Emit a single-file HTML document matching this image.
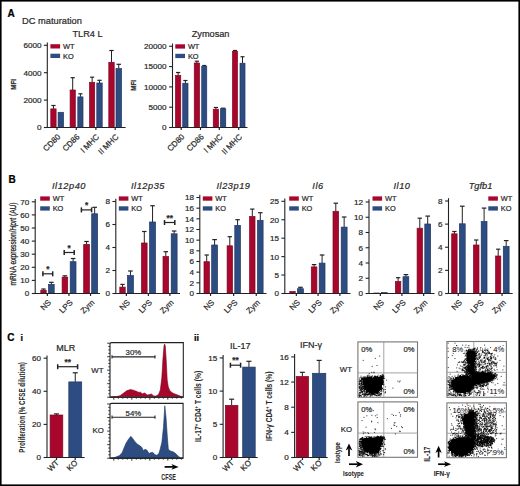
<!DOCTYPE html>
<html><head><meta charset="utf-8"><style>
html,body{margin:0;padding:0;background:#fff;}
svg{display:block;font-family:"Liberation Sans", sans-serif;}
</style></head><body>
<svg width="520" height="486" viewBox="0 0 520 486">
<defs><filter id="soft" x="-5%" y="-5%" width="110%" height="110%"><feGaussianBlur stdDeviation="0.35"/></filter></defs>
<rect width="520" height="486" fill="#fff"/>
<rect x="0" y="0" width="520" height="486" fill="none" stroke="#000" stroke-width="3.2"/>
<text x="7.60" y="17.00" font-size="10" text-anchor="start" fill="#000" stroke="#000" stroke-width="0.22" font-weight="bold" font-style="normal" >A</text>
<text x="22.00" y="24.40" font-size="9.3" text-anchor="start" fill="#2a2a2a" stroke="#2a2a2a" stroke-width="0.22" font-weight="normal" font-style="normal" >DC maturation</text>
<text x="87.50" y="36.90" font-size="9.2" text-anchor="middle" fill="#2a2a2a" stroke="#2a2a2a" stroke-width="0.22" font-weight="normal" font-style="normal" >TLR4 L</text>
<line x1="47.30" y1="42.50" x2="47.30" y2="128.00" stroke="#222" stroke-width="1.1" />
<line x1="43.90" y1="45.30" x2="47.30" y2="45.30" stroke="#222" stroke-width="1.1" />
<text x="41.40" y="48.18" font-size="8.1" text-anchor="end" fill="#2a2a2a" stroke="#2a2a2a" stroke-width="0.22" font-weight="normal" font-style="normal" >6000</text>
<line x1="43.90" y1="72.70" x2="47.30" y2="72.70" stroke="#222" stroke-width="1.1" />
<text x="41.40" y="75.58" font-size="8.1" text-anchor="end" fill="#2a2a2a" stroke="#2a2a2a" stroke-width="0.22" font-weight="normal" font-style="normal" >4000</text>
<line x1="43.90" y1="100.10" x2="47.30" y2="100.10" stroke="#222" stroke-width="1.1" />
<text x="41.40" y="102.98" font-size="8.1" text-anchor="end" fill="#2a2a2a" stroke="#2a2a2a" stroke-width="0.22" font-weight="normal" font-style="normal" >2000</text>
<line x1="43.90" y1="127.50" x2="47.30" y2="127.50" stroke="#222" stroke-width="1.1" />
<text x="41.40" y="130.38" font-size="8.1" text-anchor="end" fill="#2a2a2a" stroke="#2a2a2a" stroke-width="0.22" font-weight="normal" font-style="normal" >0</text>
<line x1="53.45" y1="108.90" x2="53.45" y2="105.50" stroke="#222" stroke-width="1.0" />
<line x1="51.33" y1="105.50" x2="55.57" y2="105.50" stroke="#222" stroke-width="1.2" />
<rect x="50.80" y="108.90" width="5.30" height="18.60" fill="#a8062c" stroke="#7d0620" stroke-width="0.7"/>
<rect x="58.10" y="112.30" width="5.40" height="15.20" fill="#2d4d82" stroke="#1e3560" stroke-width="0.7"/>
<line x1="72.70" y1="90.00" x2="72.70" y2="77.70" stroke="#222" stroke-width="1.0" />
<line x1="70.62" y1="77.70" x2="74.78" y2="77.70" stroke="#222" stroke-width="1.2" />
<rect x="70.10" y="90.00" width="5.20" height="37.50" fill="#a8062c" stroke="#7d0620" stroke-width="0.7"/>
<line x1="80.40" y1="96.90" x2="80.40" y2="93.80" stroke="#222" stroke-width="1.0" />
<line x1="78.32" y1="93.80" x2="82.48" y2="93.80" stroke="#222" stroke-width="1.2" />
<rect x="77.80" y="96.90" width="5.20" height="30.60" fill="#2d4d82" stroke="#1e3560" stroke-width="0.7"/>
<line x1="92.15" y1="82.30" x2="92.15" y2="77.20" stroke="#222" stroke-width="1.0" />
<line x1="90.11" y1="77.20" x2="94.19" y2="77.20" stroke="#222" stroke-width="1.2" />
<rect x="89.60" y="82.30" width="5.10" height="45.20" fill="#a8062c" stroke="#7d0620" stroke-width="0.7"/>
<line x1="99.50" y1="83.00" x2="99.50" y2="80.30" stroke="#222" stroke-width="1.0" />
<line x1="97.34" y1="80.30" x2="101.66" y2="80.30" stroke="#222" stroke-width="1.2" />
<rect x="96.80" y="83.00" width="5.40" height="44.50" fill="#2d4d82" stroke="#1e3560" stroke-width="0.7"/>
<line x1="111.50" y1="62.30" x2="111.50" y2="50.50" stroke="#222" stroke-width="1.0" />
<line x1="109.34" y1="50.50" x2="113.66" y2="50.50" stroke="#222" stroke-width="1.2" />
<rect x="108.80" y="62.30" width="5.40" height="65.20" fill="#a8062c" stroke="#7d0620" stroke-width="0.7"/>
<line x1="118.75" y1="68.50" x2="118.75" y2="64.30" stroke="#222" stroke-width="1.0" />
<line x1="116.55" y1="64.30" x2="120.95" y2="64.30" stroke="#222" stroke-width="1.2" />
<rect x="116.00" y="68.50" width="5.50" height="59.00" fill="#2d4d82" stroke="#1e3560" stroke-width="0.7"/>
<line x1="46.80" y1="127.50" x2="125.60" y2="127.50" stroke="#222" stroke-width="1.2" />
<line x1="57.00" y1="127.50" x2="57.00" y2="130.00" stroke="#222" stroke-width="1.2" />
<line x1="76.30" y1="127.50" x2="76.30" y2="130.00" stroke="#222" stroke-width="1.2" />
<line x1="95.90" y1="127.50" x2="95.90" y2="130.00" stroke="#222" stroke-width="1.2" />
<line x1="115.20" y1="127.50" x2="115.20" y2="130.00" stroke="#222" stroke-width="1.2" />
<rect x="50.40" y="44.20" width="9.7" height="4.3" fill="#a8062c"/>
<rect x="50.40" y="53.70" width="9.7" height="4.3" fill="#2d4d82"/>
<text x="63.00" y="49.01" font-size="7.4" text-anchor="start" fill="#2a2a2a" stroke="#2a2a2a" stroke-width="0.22" font-weight="normal" font-style="normal" >WT</text>
<text x="63.00" y="58.51" font-size="7.4" text-anchor="start" fill="#2a2a2a" stroke="#2a2a2a" stroke-width="0.22" font-weight="normal" font-style="normal" >KO</text>
<text transform="translate(60.80,137.30) rotate(-45) scale(1.0,1)" font-size="8" text-anchor="end" fill="#2a2a2a" stroke="#2a2a2a" stroke-width="0.22" font-weight="normal">CD80</text>
<text transform="translate(80.10,137.30) rotate(-45) scale(1.0,1)" font-size="8" text-anchor="end" fill="#2a2a2a" stroke="#2a2a2a" stroke-width="0.22" font-weight="normal">CD86</text>
<text transform="translate(99.70,137.30) rotate(-45) scale(1.0,1)" font-size="8" text-anchor="end" fill="#2a2a2a" stroke="#2a2a2a" stroke-width="0.22" font-weight="normal">I MHC</text>
<text transform="translate(119.00,137.30) rotate(-45) scale(1.0,1)" font-size="8" text-anchor="end" fill="#2a2a2a" stroke="#2a2a2a" stroke-width="0.22" font-weight="normal">II MHC</text>
<text transform="translate(15.90,84.40) rotate(-90)" font-size="8" text-anchor="middle" fill="#2a2a2a" stroke="#2a2a2a" stroke-width="0.22" font-weight="bold" textLength="10.6" lengthAdjust="spacingAndGlyphs">MFI</text>
<text x="210.60" y="36.90" font-size="9.2" text-anchor="middle" fill="#2a2a2a" stroke="#2a2a2a" stroke-width="0.22" font-weight="normal" font-style="normal" >Zymosan</text>
<line x1="172.50" y1="43.50" x2="172.50" y2="128.00" stroke="#222" stroke-width="1.1" />
<line x1="169.10" y1="46.30" x2="172.50" y2="46.30" stroke="#222" stroke-width="1.1" />
<text x="166.60" y="49.18" font-size="8.1" text-anchor="end" fill="#2a2a2a" stroke="#2a2a2a" stroke-width="0.22" font-weight="normal" font-style="normal" >20000</text>
<line x1="169.10" y1="66.60" x2="172.50" y2="66.60" stroke="#222" stroke-width="1.1" />
<text x="166.60" y="69.48" font-size="8.1" text-anchor="end" fill="#2a2a2a" stroke="#2a2a2a" stroke-width="0.22" font-weight="normal" font-style="normal" >15000</text>
<line x1="169.10" y1="86.90" x2="172.50" y2="86.90" stroke="#222" stroke-width="1.1" />
<text x="166.60" y="89.78" font-size="8.1" text-anchor="end" fill="#2a2a2a" stroke="#2a2a2a" stroke-width="0.22" font-weight="normal" font-style="normal" >10000</text>
<line x1="169.10" y1="107.20" x2="172.50" y2="107.20" stroke="#222" stroke-width="1.1" />
<text x="166.60" y="110.08" font-size="8.1" text-anchor="end" fill="#2a2a2a" stroke="#2a2a2a" stroke-width="0.22" font-weight="normal" font-style="normal" >5000</text>
<line x1="169.10" y1="127.50" x2="172.50" y2="127.50" stroke="#222" stroke-width="1.1" />
<text x="166.60" y="130.38" font-size="8.1" text-anchor="end" fill="#2a2a2a" stroke="#2a2a2a" stroke-width="0.22" font-weight="normal" font-style="normal" >0</text>
<line x1="178.12" y1="75.50" x2="178.12" y2="72.50" stroke="#222" stroke-width="1.0" />
<line x1="176.03" y1="72.50" x2="180.22" y2="72.50" stroke="#222" stroke-width="1.2" />
<rect x="175.50" y="75.50" width="5.25" height="52.00" fill="#a8062c" stroke="#7d0620" stroke-width="0.7"/>
<line x1="185.38" y1="83.25" x2="185.38" y2="80.50" stroke="#222" stroke-width="1.0" />
<line x1="183.28" y1="80.50" x2="187.47" y2="80.50" stroke="#222" stroke-width="1.2" />
<rect x="182.75" y="83.25" width="5.25" height="44.25" fill="#2d4d82" stroke="#1e3560" stroke-width="0.7"/>
<line x1="196.88" y1="63.00" x2="196.88" y2="61.20" stroke="#222" stroke-width="1.0" />
<line x1="194.78" y1="61.20" x2="198.97" y2="61.20" stroke="#222" stroke-width="1.2" />
<rect x="194.25" y="63.00" width="5.25" height="64.50" fill="#a8062c" stroke="#7d0620" stroke-width="0.7"/>
<line x1="204.25" y1="66.25" x2="204.25" y2="65.50" stroke="#222" stroke-width="1.0" />
<line x1="202.25" y1="65.50" x2="206.25" y2="65.50" stroke="#222" stroke-width="1.2" />
<rect x="201.75" y="66.25" width="5.00" height="61.25" fill="#2d4d82" stroke="#1e3560" stroke-width="0.7"/>
<line x1="215.88" y1="109.25" x2="215.88" y2="107.50" stroke="#222" stroke-width="1.0" />
<line x1="213.78" y1="107.50" x2="217.97" y2="107.50" stroke="#222" stroke-width="1.2" />
<rect x="213.25" y="109.25" width="5.25" height="18.25" fill="#a8062c" stroke="#7d0620" stroke-width="0.7"/>
<line x1="223.12" y1="108.75" x2="223.12" y2="108.20" stroke="#222" stroke-width="1.0" />
<line x1="221.03" y1="108.20" x2="225.22" y2="108.20" stroke="#222" stroke-width="1.2" />
<rect x="220.50" y="108.75" width="5.25" height="18.75" fill="#2d4d82" stroke="#1e3560" stroke-width="0.7"/>
<line x1="235.00" y1="51.25" x2="235.00" y2="50.50" stroke="#222" stroke-width="1.0" />
<line x1="233.00" y1="50.50" x2="237.00" y2="50.50" stroke="#222" stroke-width="1.2" />
<rect x="232.50" y="51.25" width="5.00" height="76.25" fill="#a8062c" stroke="#7d0620" stroke-width="0.7"/>
<line x1="242.50" y1="63.25" x2="242.50" y2="56.75" stroke="#222" stroke-width="1.0" />
<line x1="240.50" y1="56.75" x2="244.50" y2="56.75" stroke="#222" stroke-width="1.2" />
<rect x="240.00" y="63.25" width="5.00" height="64.25" fill="#2d4d82" stroke="#1e3560" stroke-width="0.7"/>
<line x1="172.00" y1="127.50" x2="247.50" y2="127.50" stroke="#222" stroke-width="1.2" />
<line x1="181.20" y1="127.50" x2="181.20" y2="130.00" stroke="#222" stroke-width="1.2" />
<line x1="200.50" y1="127.50" x2="200.50" y2="130.00" stroke="#222" stroke-width="1.2" />
<line x1="219.30" y1="127.50" x2="219.30" y2="130.00" stroke="#222" stroke-width="1.2" />
<line x1="238.70" y1="127.50" x2="238.70" y2="130.00" stroke="#222" stroke-width="1.2" />
<rect x="175.30" y="44.30" width="9.7" height="4.3" fill="#a8062c"/>
<rect x="175.30" y="53.80" width="9.7" height="4.3" fill="#2d4d82"/>
<text x="187.90" y="49.11" font-size="7.4" text-anchor="start" fill="#2a2a2a" stroke="#2a2a2a" stroke-width="0.22" font-weight="normal" font-style="normal" >WT</text>
<text x="187.90" y="58.61" font-size="7.4" text-anchor="start" fill="#2a2a2a" stroke="#2a2a2a" stroke-width="0.22" font-weight="normal" font-style="normal" >KO</text>
<text transform="translate(185.00,137.30) rotate(-45) scale(1.0,1)" font-size="8" text-anchor="end" fill="#2a2a2a" stroke="#2a2a2a" stroke-width="0.22" font-weight="normal">CD80</text>
<text transform="translate(204.30,137.30) rotate(-45) scale(1.0,1)" font-size="8" text-anchor="end" fill="#2a2a2a" stroke="#2a2a2a" stroke-width="0.22" font-weight="normal">CD86</text>
<text transform="translate(223.10,137.30) rotate(-45) scale(1.0,1)" font-size="8" text-anchor="end" fill="#2a2a2a" stroke="#2a2a2a" stroke-width="0.22" font-weight="normal">I MHC</text>
<text transform="translate(242.50,137.30) rotate(-45) scale(1.0,1)" font-size="8" text-anchor="end" fill="#2a2a2a" stroke="#2a2a2a" stroke-width="0.22" font-weight="normal">II MHC</text>
<text transform="translate(135.80,85.40) rotate(-90)" font-size="8" text-anchor="middle" fill="#2a2a2a" stroke="#2a2a2a" stroke-width="0.22" font-weight="bold" textLength="10.6" lengthAdjust="spacingAndGlyphs">MFI</text>
<text x="8.50" y="182.60" font-size="10" text-anchor="start" fill="#000" stroke="#000" stroke-width="0.22" font-weight="bold" font-style="normal" >B</text>
<text x="69.00" y="188.60" font-size="9.2" text-anchor="middle" fill="#2a2a2a" stroke="#2a2a2a" stroke-width="0.22" font-weight="normal" font-style="italic" letter-spacing="0.55">Il12p40</text>
<line x1="35.20" y1="199.00" x2="35.20" y2="294.00" stroke="#222" stroke-width="1.1" />
<line x1="31.80" y1="293.50" x2="35.20" y2="293.50" stroke="#222" stroke-width="1.1" />
<text x="29.30" y="296.38" font-size="8.1" text-anchor="end" fill="#2a2a2a" stroke="#2a2a2a" stroke-width="0.22" font-weight="normal" font-style="normal" >0</text>
<line x1="31.80" y1="280.40" x2="35.20" y2="280.40" stroke="#222" stroke-width="1.1" />
<text x="29.30" y="283.28" font-size="8.1" text-anchor="end" fill="#2a2a2a" stroke="#2a2a2a" stroke-width="0.22" font-weight="normal" font-style="normal" >10</text>
<line x1="31.80" y1="267.30" x2="35.20" y2="267.30" stroke="#222" stroke-width="1.1" />
<text x="29.30" y="270.18" font-size="8.1" text-anchor="end" fill="#2a2a2a" stroke="#2a2a2a" stroke-width="0.22" font-weight="normal" font-style="normal" >20</text>
<line x1="31.80" y1="254.20" x2="35.20" y2="254.20" stroke="#222" stroke-width="1.1" />
<text x="29.30" y="257.08" font-size="8.1" text-anchor="end" fill="#2a2a2a" stroke="#2a2a2a" stroke-width="0.22" font-weight="normal" font-style="normal" >30</text>
<line x1="31.80" y1="241.10" x2="35.20" y2="241.10" stroke="#222" stroke-width="1.1" />
<text x="29.30" y="243.98" font-size="8.1" text-anchor="end" fill="#2a2a2a" stroke="#2a2a2a" stroke-width="0.22" font-weight="normal" font-style="normal" >40</text>
<line x1="31.80" y1="228.00" x2="35.20" y2="228.00" stroke="#222" stroke-width="1.1" />
<text x="29.30" y="230.88" font-size="8.1" text-anchor="end" fill="#2a2a2a" stroke="#2a2a2a" stroke-width="0.22" font-weight="normal" font-style="normal" >50</text>
<line x1="31.80" y1="214.90" x2="35.20" y2="214.90" stroke="#222" stroke-width="1.1" />
<text x="29.30" y="217.78" font-size="8.1" text-anchor="end" fill="#2a2a2a" stroke="#2a2a2a" stroke-width="0.22" font-weight="normal" font-style="normal" >60</text>
<line x1="31.80" y1="201.80" x2="35.20" y2="201.80" stroke="#222" stroke-width="1.1" />
<text x="29.30" y="204.68" font-size="8.1" text-anchor="end" fill="#2a2a2a" stroke="#2a2a2a" stroke-width="0.22" font-weight="normal" font-style="normal" >70</text>
<line x1="43.50" y1="290.20" x2="43.50" y2="289.00" stroke="#222" stroke-width="1.0" />
<line x1="41.34" y1="289.00" x2="45.66" y2="289.00" stroke="#222" stroke-width="1.2" />
<rect x="40.80" y="290.20" width="5.40" height="3.30" fill="#a8062c" stroke="#7d0620" stroke-width="0.7"/>
<line x1="51.35" y1="284.40" x2="51.35" y2="282.30" stroke="#222" stroke-width="1.0" />
<line x1="49.07" y1="282.30" x2="53.63" y2="282.30" stroke="#222" stroke-width="1.2" />
<rect x="48.50" y="284.40" width="5.70" height="9.10" fill="#2d4d82" stroke="#1e3560" stroke-width="0.7"/>
<line x1="64.90" y1="277.10" x2="64.90" y2="275.80" stroke="#222" stroke-width="1.0" />
<line x1="62.66" y1="275.80" x2="67.14" y2="275.80" stroke="#222" stroke-width="1.2" />
<rect x="62.10" y="277.10" width="5.60" height="16.40" fill="#a8062c" stroke="#7d0620" stroke-width="0.7"/>
<line x1="73.10" y1="261.70" x2="73.10" y2="258.50" stroke="#222" stroke-width="1.0" />
<line x1="70.80" y1="258.50" x2="75.40" y2="258.50" stroke="#222" stroke-width="1.2" />
<rect x="70.20" y="261.70" width="5.80" height="31.80" fill="#2d4d82" stroke="#1e3560" stroke-width="0.7"/>
<line x1="86.55" y1="244.40" x2="86.55" y2="241.50" stroke="#222" stroke-width="1.0" />
<line x1="84.27" y1="241.50" x2="88.83" y2="241.50" stroke="#222" stroke-width="1.2" />
<rect x="83.70" y="244.40" width="5.70" height="49.10" fill="#a8062c" stroke="#7d0620" stroke-width="0.7"/>
<line x1="94.65" y1="213.75" x2="94.65" y2="207.30" stroke="#222" stroke-width="1.0" />
<line x1="92.35" y1="207.30" x2="96.95" y2="207.30" stroke="#222" stroke-width="1.2" />
<rect x="91.70" y="213.75" width="5.90" height="79.75" fill="#2d4d82" stroke="#1e3560" stroke-width="0.7"/>
<line x1="34.70" y1="293.50" x2="100.00" y2="293.50" stroke="#222" stroke-width="1.2" />
<line x1="47.35" y1="293.50" x2="47.35" y2="296.00" stroke="#222" stroke-width="1.2" />
<line x1="68.95" y1="293.50" x2="68.95" y2="296.00" stroke="#222" stroke-width="1.2" />
<line x1="90.55" y1="293.50" x2="90.55" y2="296.00" stroke="#222" stroke-width="1.2" />
<rect x="40.20" y="196.40" width="9.6" height="4.3" fill="#a8062c"/>
<rect x="40.20" y="206.30" width="9.6" height="4.3" fill="#2d4d82"/>
<text x="52.70" y="201.21" font-size="7.4" text-anchor="start" fill="#2a2a2a" stroke="#2a2a2a" stroke-width="0.22" font-weight="normal" font-style="normal" >WT</text>
<text x="52.70" y="211.11" font-size="7.4" text-anchor="start" fill="#2a2a2a" stroke="#2a2a2a" stroke-width="0.22" font-weight="normal" font-style="normal" >KO</text>
<text transform="translate(51.65,303.00) rotate(-45) scale(1.0,1)" font-size="8" text-anchor="end" fill="#2a2a2a" stroke="#2a2a2a" stroke-width="0.22" font-weight="normal">NS</text>
<text transform="translate(73.25,303.00) rotate(-45) scale(1.0,1)" font-size="8" text-anchor="end" fill="#2a2a2a" stroke="#2a2a2a" stroke-width="0.22" font-weight="normal">LPS</text>
<text transform="translate(94.85,303.00) rotate(-45) scale(1.0,1)" font-size="8" text-anchor="end" fill="#2a2a2a" stroke="#2a2a2a" stroke-width="0.22" font-weight="normal">Zym</text>
<text x="148.00" y="188.60" font-size="9.2" text-anchor="middle" fill="#2a2a2a" stroke="#2a2a2a" stroke-width="0.22" font-weight="normal" font-style="italic" letter-spacing="0.55">Il12p35</text>
<line x1="115.80" y1="198.70" x2="115.80" y2="294.00" stroke="#222" stroke-width="1.1" />
<line x1="112.40" y1="293.50" x2="115.80" y2="293.50" stroke="#222" stroke-width="1.1" />
<text x="109.90" y="296.38" font-size="8.1" text-anchor="end" fill="#2a2a2a" stroke="#2a2a2a" stroke-width="0.22" font-weight="normal" font-style="normal" >0</text>
<line x1="112.40" y1="270.50" x2="115.80" y2="270.50" stroke="#222" stroke-width="1.1" />
<text x="109.90" y="273.38" font-size="8.1" text-anchor="end" fill="#2a2a2a" stroke="#2a2a2a" stroke-width="0.22" font-weight="normal" font-style="normal" >2</text>
<line x1="112.40" y1="247.50" x2="115.80" y2="247.50" stroke="#222" stroke-width="1.1" />
<text x="109.90" y="250.38" font-size="8.1" text-anchor="end" fill="#2a2a2a" stroke="#2a2a2a" stroke-width="0.22" font-weight="normal" font-style="normal" >4</text>
<line x1="112.40" y1="224.50" x2="115.80" y2="224.50" stroke="#222" stroke-width="1.1" />
<text x="109.90" y="227.38" font-size="8.1" text-anchor="end" fill="#2a2a2a" stroke="#2a2a2a" stroke-width="0.22" font-weight="normal" font-style="normal" >6</text>
<line x1="112.40" y1="201.50" x2="115.80" y2="201.50" stroke="#222" stroke-width="1.1" />
<text x="109.90" y="204.38" font-size="8.1" text-anchor="end" fill="#2a2a2a" stroke="#2a2a2a" stroke-width="0.22" font-weight="normal" font-style="normal" >8</text>
<line x1="122.50" y1="287.10" x2="122.50" y2="284.40" stroke="#222" stroke-width="1.0" />
<line x1="120.34" y1="284.40" x2="124.66" y2="284.40" stroke="#222" stroke-width="1.2" />
<rect x="119.80" y="287.10" width="5.40" height="6.40" fill="#a8062c" stroke="#7d0620" stroke-width="0.7"/>
<line x1="130.45" y1="275.60" x2="130.45" y2="271.00" stroke="#222" stroke-width="1.0" />
<line x1="128.15" y1="271.00" x2="132.75" y2="271.00" stroke="#222" stroke-width="1.2" />
<rect x="127.50" y="275.60" width="5.90" height="17.90" fill="#2d4d82" stroke="#1e3560" stroke-width="0.7"/>
<line x1="144.30" y1="243.00" x2="144.30" y2="231.50" stroke="#222" stroke-width="1.0" />
<line x1="142.06" y1="231.50" x2="146.54" y2="231.50" stroke="#222" stroke-width="1.2" />
<rect x="141.50" y="243.00" width="5.60" height="50.50" fill="#a8062c" stroke="#7d0620" stroke-width="0.7"/>
<line x1="152.55" y1="222.00" x2="152.55" y2="205.75" stroke="#222" stroke-width="1.0" />
<line x1="150.25" y1="205.75" x2="154.85" y2="205.75" stroke="#222" stroke-width="1.2" />
<rect x="149.60" y="222.00" width="5.90" height="71.50" fill="#2d4d82" stroke="#1e3560" stroke-width="0.7"/>
<line x1="165.80" y1="256.50" x2="165.80" y2="251.70" stroke="#222" stroke-width="1.0" />
<line x1="163.56" y1="251.70" x2="168.04" y2="251.70" stroke="#222" stroke-width="1.2" />
<rect x="163.00" y="256.50" width="5.60" height="37.00" fill="#a8062c" stroke="#7d0620" stroke-width="0.7"/>
<line x1="174.15" y1="233.80" x2="174.15" y2="231.00" stroke="#222" stroke-width="1.0" />
<line x1="171.85" y1="231.00" x2="176.45" y2="231.00" stroke="#222" stroke-width="1.2" />
<rect x="171.20" y="233.80" width="5.90" height="59.70" fill="#2d4d82" stroke="#1e3560" stroke-width="0.7"/>
<line x1="115.30" y1="293.50" x2="180.00" y2="293.50" stroke="#222" stroke-width="1.2" />
<line x1="126.35" y1="293.50" x2="126.35" y2="296.00" stroke="#222" stroke-width="1.2" />
<line x1="148.35" y1="293.50" x2="148.35" y2="296.00" stroke="#222" stroke-width="1.2" />
<line x1="169.90" y1="293.50" x2="169.90" y2="296.00" stroke="#222" stroke-width="1.2" />
<rect x="118.80" y="196.40" width="9.6" height="4.3" fill="#a8062c"/>
<rect x="118.80" y="206.30" width="9.6" height="4.3" fill="#2d4d82"/>
<text x="131.30" y="201.21" font-size="7.4" text-anchor="start" fill="#2a2a2a" stroke="#2a2a2a" stroke-width="0.22" font-weight="normal" font-style="normal" >WT</text>
<text x="131.30" y="211.11" font-size="7.4" text-anchor="start" fill="#2a2a2a" stroke="#2a2a2a" stroke-width="0.22" font-weight="normal" font-style="normal" >KO</text>
<text transform="translate(130.65,303.00) rotate(-45) scale(1.0,1)" font-size="8" text-anchor="end" fill="#2a2a2a" stroke="#2a2a2a" stroke-width="0.22" font-weight="normal">NS</text>
<text transform="translate(152.65,303.00) rotate(-45) scale(1.0,1)" font-size="8" text-anchor="end" fill="#2a2a2a" stroke="#2a2a2a" stroke-width="0.22" font-weight="normal">LPS</text>
<text transform="translate(174.20,303.00) rotate(-45) scale(1.0,1)" font-size="8" text-anchor="end" fill="#2a2a2a" stroke="#2a2a2a" stroke-width="0.22" font-weight="normal">Zym</text>
<text x="233.50" y="188.60" font-size="9.2" text-anchor="middle" fill="#2a2a2a" stroke="#2a2a2a" stroke-width="0.22" font-weight="normal" font-style="italic" letter-spacing="0.55">Il23p19</text>
<line x1="199.80" y1="194.70" x2="199.80" y2="294.00" stroke="#222" stroke-width="1.1" />
<line x1="196.40" y1="293.50" x2="199.80" y2="293.50" stroke="#222" stroke-width="1.1" />
<text x="193.90" y="296.38" font-size="8.1" text-anchor="end" fill="#2a2a2a" stroke="#2a2a2a" stroke-width="0.22" font-weight="normal" font-style="normal" >0</text>
<line x1="196.40" y1="282.83" x2="199.80" y2="282.83" stroke="#222" stroke-width="1.1" />
<text x="193.90" y="285.71" font-size="8.1" text-anchor="end" fill="#2a2a2a" stroke="#2a2a2a" stroke-width="0.22" font-weight="normal" font-style="normal" >2</text>
<line x1="196.40" y1="272.17" x2="199.80" y2="272.17" stroke="#222" stroke-width="1.1" />
<text x="193.90" y="275.04" font-size="8.1" text-anchor="end" fill="#2a2a2a" stroke="#2a2a2a" stroke-width="0.22" font-weight="normal" font-style="normal" >4</text>
<line x1="196.40" y1="261.50" x2="199.80" y2="261.50" stroke="#222" stroke-width="1.1" />
<text x="193.90" y="264.38" font-size="8.1" text-anchor="end" fill="#2a2a2a" stroke="#2a2a2a" stroke-width="0.22" font-weight="normal" font-style="normal" >6</text>
<line x1="196.40" y1="250.83" x2="199.80" y2="250.83" stroke="#222" stroke-width="1.1" />
<text x="193.90" y="253.71" font-size="8.1" text-anchor="end" fill="#2a2a2a" stroke="#2a2a2a" stroke-width="0.22" font-weight="normal" font-style="normal" >8</text>
<line x1="196.40" y1="240.17" x2="199.80" y2="240.17" stroke="#222" stroke-width="1.1" />
<text x="193.90" y="243.04" font-size="8.1" text-anchor="end" fill="#2a2a2a" stroke="#2a2a2a" stroke-width="0.22" font-weight="normal" font-style="normal" >10</text>
<line x1="196.40" y1="229.50" x2="199.80" y2="229.50" stroke="#222" stroke-width="1.1" />
<text x="193.90" y="232.38" font-size="8.1" text-anchor="end" fill="#2a2a2a" stroke="#2a2a2a" stroke-width="0.22" font-weight="normal" font-style="normal" >12</text>
<line x1="196.40" y1="218.83" x2="199.80" y2="218.83" stroke="#222" stroke-width="1.1" />
<text x="193.90" y="221.71" font-size="8.1" text-anchor="end" fill="#2a2a2a" stroke="#2a2a2a" stroke-width="0.22" font-weight="normal" font-style="normal" >14</text>
<line x1="196.40" y1="208.17" x2="199.80" y2="208.17" stroke="#222" stroke-width="1.1" />
<text x="193.90" y="211.04" font-size="8.1" text-anchor="end" fill="#2a2a2a" stroke="#2a2a2a" stroke-width="0.22" font-weight="normal" font-style="normal" >16</text>
<line x1="196.40" y1="197.50" x2="199.80" y2="197.50" stroke="#222" stroke-width="1.1" />
<text x="193.90" y="200.38" font-size="8.1" text-anchor="end" fill="#2a2a2a" stroke="#2a2a2a" stroke-width="0.22" font-weight="normal" font-style="normal" >18</text>
<line x1="206.70" y1="261.70" x2="206.70" y2="255.00" stroke="#222" stroke-width="1.0" />
<line x1="204.54" y1="255.00" x2="208.86" y2="255.00" stroke="#222" stroke-width="1.2" />
<rect x="204.00" y="261.70" width="5.40" height="31.80" fill="#a8062c" stroke="#7d0620" stroke-width="0.7"/>
<line x1="214.60" y1="245.00" x2="214.60" y2="239.60" stroke="#222" stroke-width="1.0" />
<line x1="212.30" y1="239.60" x2="216.90" y2="239.60" stroke="#222" stroke-width="1.2" />
<rect x="211.70" y="245.00" width="5.80" height="48.50" fill="#2d4d82" stroke="#1e3560" stroke-width="0.7"/>
<line x1="229.80" y1="245.80" x2="229.80" y2="236.70" stroke="#222" stroke-width="1.0" />
<line x1="227.64" y1="236.70" x2="231.96" y2="236.70" stroke="#222" stroke-width="1.2" />
<rect x="227.10" y="245.80" width="5.40" height="47.70" fill="#a8062c" stroke="#7d0620" stroke-width="0.7"/>
<line x1="237.60" y1="225.40" x2="237.60" y2="219.70" stroke="#222" stroke-width="1.0" />
<line x1="235.36" y1="219.70" x2="239.84" y2="219.70" stroke="#222" stroke-width="1.2" />
<rect x="234.80" y="225.40" width="5.60" height="68.10" fill="#2d4d82" stroke="#1e3560" stroke-width="0.7"/>
<line x1="252.30" y1="216.50" x2="252.30" y2="209.10" stroke="#222" stroke-width="1.0" />
<line x1="250.14" y1="209.10" x2="254.46" y2="209.10" stroke="#222" stroke-width="1.2" />
<rect x="249.60" y="216.50" width="5.40" height="77.00" fill="#a8062c" stroke="#7d0620" stroke-width="0.7"/>
<line x1="260.30" y1="220.30" x2="260.30" y2="212.70" stroke="#222" stroke-width="1.0" />
<line x1="258.06" y1="212.70" x2="262.54" y2="212.70" stroke="#222" stroke-width="1.2" />
<rect x="257.50" y="220.30" width="5.60" height="73.20" fill="#2d4d82" stroke="#1e3560" stroke-width="0.7"/>
<line x1="199.30" y1="293.50" x2="266.50" y2="293.50" stroke="#222" stroke-width="1.2" />
<line x1="210.55" y1="293.50" x2="210.55" y2="296.00" stroke="#222" stroke-width="1.2" />
<line x1="233.65" y1="293.50" x2="233.65" y2="296.00" stroke="#222" stroke-width="1.2" />
<line x1="256.25" y1="293.50" x2="256.25" y2="296.00" stroke="#222" stroke-width="1.2" />
<rect x="202.80" y="196.40" width="9.6" height="4.3" fill="#a8062c"/>
<rect x="202.80" y="206.30" width="9.6" height="4.3" fill="#2d4d82"/>
<text x="215.30" y="201.21" font-size="7.4" text-anchor="start" fill="#2a2a2a" stroke="#2a2a2a" stroke-width="0.22" font-weight="normal" font-style="normal" >WT</text>
<text x="215.30" y="211.11" font-size="7.4" text-anchor="start" fill="#2a2a2a" stroke="#2a2a2a" stroke-width="0.22" font-weight="normal" font-style="normal" >KO</text>
<text transform="translate(214.85,303.00) rotate(-45) scale(1.0,1)" font-size="8" text-anchor="end" fill="#2a2a2a" stroke="#2a2a2a" stroke-width="0.22" font-weight="normal">NS</text>
<text transform="translate(237.95,303.00) rotate(-45) scale(1.0,1)" font-size="8" text-anchor="end" fill="#2a2a2a" stroke="#2a2a2a" stroke-width="0.22" font-weight="normal">LPS</text>
<text transform="translate(260.55,303.00) rotate(-45) scale(1.0,1)" font-size="8" text-anchor="end" fill="#2a2a2a" stroke="#2a2a2a" stroke-width="0.22" font-weight="normal">Zym</text>
<text x="318.00" y="188.60" font-size="9.2" text-anchor="middle" fill="#2a2a2a" stroke="#2a2a2a" stroke-width="0.22" font-weight="normal" font-style="italic" letter-spacing="0.55">Il6</text>
<line x1="284.80" y1="198.50" x2="284.80" y2="294.00" stroke="#222" stroke-width="1.1" />
<line x1="281.40" y1="293.50" x2="284.80" y2="293.50" stroke="#222" stroke-width="1.1" />
<text x="278.90" y="296.38" font-size="8.1" text-anchor="end" fill="#2a2a2a" stroke="#2a2a2a" stroke-width="0.22" font-weight="normal" font-style="normal" >0</text>
<line x1="281.40" y1="275.06" x2="284.80" y2="275.06" stroke="#222" stroke-width="1.1" />
<text x="278.90" y="277.94" font-size="8.1" text-anchor="end" fill="#2a2a2a" stroke="#2a2a2a" stroke-width="0.22" font-weight="normal" font-style="normal" >5</text>
<line x1="281.40" y1="256.62" x2="284.80" y2="256.62" stroke="#222" stroke-width="1.1" />
<text x="278.90" y="259.50" font-size="8.1" text-anchor="end" fill="#2a2a2a" stroke="#2a2a2a" stroke-width="0.22" font-weight="normal" font-style="normal" >10</text>
<line x1="281.40" y1="238.18" x2="284.80" y2="238.18" stroke="#222" stroke-width="1.1" />
<text x="278.90" y="241.06" font-size="8.1" text-anchor="end" fill="#2a2a2a" stroke="#2a2a2a" stroke-width="0.22" font-weight="normal" font-style="normal" >15</text>
<line x1="281.40" y1="219.74" x2="284.80" y2="219.74" stroke="#222" stroke-width="1.1" />
<text x="278.90" y="222.62" font-size="8.1" text-anchor="end" fill="#2a2a2a" stroke="#2a2a2a" stroke-width="0.22" font-weight="normal" font-style="normal" >20</text>
<line x1="281.40" y1="201.30" x2="284.80" y2="201.30" stroke="#222" stroke-width="1.1" />
<text x="278.90" y="204.18" font-size="8.1" text-anchor="end" fill="#2a2a2a" stroke="#2a2a2a" stroke-width="0.22" font-weight="normal" font-style="normal" >25</text>
<rect x="289.80" y="291.50" width="5.40" height="2.00" fill="#a8062c" stroke="#7d0620" stroke-width="0.7"/>
<line x1="300.45" y1="288.70" x2="300.45" y2="287.30" stroke="#222" stroke-width="1.0" />
<line x1="298.15" y1="287.30" x2="302.75" y2="287.30" stroke="#222" stroke-width="1.2" />
<rect x="297.50" y="288.70" width="5.90" height="4.80" fill="#2d4d82" stroke="#1e3560" stroke-width="0.7"/>
<line x1="314.10" y1="266.90" x2="314.10" y2="264.60" stroke="#222" stroke-width="1.0" />
<line x1="311.86" y1="264.60" x2="316.34" y2="264.60" stroke="#222" stroke-width="1.2" />
<rect x="311.30" y="266.90" width="5.60" height="26.60" fill="#a8062c" stroke="#7d0620" stroke-width="0.7"/>
<line x1="322.10" y1="263.10" x2="322.10" y2="255.00" stroke="#222" stroke-width="1.0" />
<line x1="319.80" y1="255.00" x2="324.40" y2="255.00" stroke="#222" stroke-width="1.2" />
<rect x="319.20" y="263.10" width="5.80" height="30.40" fill="#2d4d82" stroke="#1e3560" stroke-width="0.7"/>
<line x1="335.80" y1="211.30" x2="335.80" y2="203.20" stroke="#222" stroke-width="1.0" />
<line x1="333.56" y1="203.20" x2="338.04" y2="203.20" stroke="#222" stroke-width="1.2" />
<rect x="333.00" y="211.30" width="5.60" height="82.20" fill="#a8062c" stroke="#7d0620" stroke-width="0.7"/>
<line x1="344.15" y1="227.10" x2="344.15" y2="217.00" stroke="#222" stroke-width="1.0" />
<line x1="341.85" y1="217.00" x2="346.45" y2="217.00" stroke="#222" stroke-width="1.2" />
<rect x="341.20" y="227.10" width="5.90" height="66.40" fill="#2d4d82" stroke="#1e3560" stroke-width="0.7"/>
<line x1="284.30" y1="293.50" x2="350.50" y2="293.50" stroke="#222" stroke-width="1.2" />
<line x1="296.35" y1="293.50" x2="296.35" y2="296.00" stroke="#222" stroke-width="1.2" />
<line x1="318.05" y1="293.50" x2="318.05" y2="296.00" stroke="#222" stroke-width="1.2" />
<line x1="339.90" y1="293.50" x2="339.90" y2="296.00" stroke="#222" stroke-width="1.2" />
<rect x="289.20" y="196.40" width="9.6" height="4.3" fill="#a8062c"/>
<rect x="289.20" y="206.30" width="9.6" height="4.3" fill="#2d4d82"/>
<text x="301.70" y="201.21" font-size="7.4" text-anchor="start" fill="#2a2a2a" stroke="#2a2a2a" stroke-width="0.22" font-weight="normal" font-style="normal" >WT</text>
<text x="301.70" y="211.11" font-size="7.4" text-anchor="start" fill="#2a2a2a" stroke="#2a2a2a" stroke-width="0.22" font-weight="normal" font-style="normal" >KO</text>
<text transform="translate(300.65,303.00) rotate(-45) scale(1.0,1)" font-size="8" text-anchor="end" fill="#2a2a2a" stroke="#2a2a2a" stroke-width="0.22" font-weight="normal">NS</text>
<text transform="translate(322.35,303.00) rotate(-45) scale(1.0,1)" font-size="8" text-anchor="end" fill="#2a2a2a" stroke="#2a2a2a" stroke-width="0.22" font-weight="normal">LPS</text>
<text transform="translate(344.20,303.00) rotate(-45) scale(1.0,1)" font-size="8" text-anchor="end" fill="#2a2a2a" stroke="#2a2a2a" stroke-width="0.22" font-weight="normal">Zym</text>
<text x="402.00" y="188.60" font-size="9.2" text-anchor="middle" fill="#2a2a2a" stroke="#2a2a2a" stroke-width="0.22" font-weight="normal" font-style="italic" letter-spacing="0.55">Il10</text>
<line x1="369.00" y1="199.20" x2="369.00" y2="294.00" stroke="#222" stroke-width="1.1" />
<line x1="365.60" y1="293.50" x2="369.00" y2="293.50" stroke="#222" stroke-width="1.1" />
<text x="363.10" y="296.38" font-size="8.1" text-anchor="end" fill="#2a2a2a" stroke="#2a2a2a" stroke-width="0.22" font-weight="normal" font-style="normal" >0</text>
<line x1="365.60" y1="278.25" x2="369.00" y2="278.25" stroke="#222" stroke-width="1.1" />
<text x="363.10" y="281.13" font-size="8.1" text-anchor="end" fill="#2a2a2a" stroke="#2a2a2a" stroke-width="0.22" font-weight="normal" font-style="normal" >2</text>
<line x1="365.60" y1="263.00" x2="369.00" y2="263.00" stroke="#222" stroke-width="1.1" />
<text x="363.10" y="265.88" font-size="8.1" text-anchor="end" fill="#2a2a2a" stroke="#2a2a2a" stroke-width="0.22" font-weight="normal" font-style="normal" >4</text>
<line x1="365.60" y1="247.75" x2="369.00" y2="247.75" stroke="#222" stroke-width="1.1" />
<text x="363.10" y="250.63" font-size="8.1" text-anchor="end" fill="#2a2a2a" stroke="#2a2a2a" stroke-width="0.22" font-weight="normal" font-style="normal" >6</text>
<line x1="365.60" y1="232.50" x2="369.00" y2="232.50" stroke="#222" stroke-width="1.1" />
<text x="363.10" y="235.38" font-size="8.1" text-anchor="end" fill="#2a2a2a" stroke="#2a2a2a" stroke-width="0.22" font-weight="normal" font-style="normal" >8</text>
<line x1="365.60" y1="217.25" x2="369.00" y2="217.25" stroke="#222" stroke-width="1.1" />
<text x="363.10" y="220.13" font-size="8.1" text-anchor="end" fill="#2a2a2a" stroke="#2a2a2a" stroke-width="0.22" font-weight="normal" font-style="normal" >10</text>
<line x1="365.60" y1="202.00" x2="369.00" y2="202.00" stroke="#222" stroke-width="1.1" />
<text x="363.10" y="204.88" font-size="8.1" text-anchor="end" fill="#2a2a2a" stroke="#2a2a2a" stroke-width="0.22" font-weight="normal" font-style="normal" >12</text>
<rect x="373.80" y="293.00" width="5.40" height="0.50" fill="#a8062c" stroke="#7d0620" stroke-width="0.7"/>
<rect x="381.50" y="292.50" width="5.60" height="1.00" fill="#2d4d82" stroke="#1e3560" stroke-width="0.7"/>
<line x1="398.10" y1="281.50" x2="398.10" y2="277.70" stroke="#222" stroke-width="1.0" />
<line x1="395.94" y1="277.70" x2="400.26" y2="277.70" stroke="#222" stroke-width="1.2" />
<rect x="395.40" y="281.50" width="5.40" height="12.00" fill="#a8062c" stroke="#7d0620" stroke-width="0.7"/>
<line x1="405.90" y1="276.70" x2="405.90" y2="274.60" stroke="#222" stroke-width="1.0" />
<line x1="403.60" y1="274.60" x2="408.20" y2="274.60" stroke="#222" stroke-width="1.2" />
<rect x="403.00" y="276.70" width="5.80" height="16.80" fill="#2d4d82" stroke="#1e3560" stroke-width="0.7"/>
<line x1="419.80" y1="228.20" x2="419.80" y2="218.20" stroke="#222" stroke-width="1.0" />
<line x1="417.64" y1="218.20" x2="421.96" y2="218.20" stroke="#222" stroke-width="1.2" />
<rect x="417.10" y="228.20" width="5.40" height="65.30" fill="#a8062c" stroke="#7d0620" stroke-width="0.7"/>
<line x1="427.70" y1="224.00" x2="427.70" y2="216.10" stroke="#222" stroke-width="1.0" />
<line x1="425.40" y1="216.10" x2="430.00" y2="216.10" stroke="#222" stroke-width="1.2" />
<rect x="424.80" y="224.00" width="5.80" height="69.50" fill="#2d4d82" stroke="#1e3560" stroke-width="0.7"/>
<line x1="368.50" y1="293.50" x2="434.50" y2="293.50" stroke="#222" stroke-width="1.2" />
<line x1="380.35" y1="293.50" x2="380.35" y2="296.00" stroke="#222" stroke-width="1.2" />
<line x1="401.90" y1="293.50" x2="401.90" y2="296.00" stroke="#222" stroke-width="1.2" />
<line x1="423.65" y1="293.50" x2="423.65" y2="296.00" stroke="#222" stroke-width="1.2" />
<rect x="372.50" y="196.40" width="9.6" height="4.3" fill="#a8062c"/>
<rect x="372.50" y="206.30" width="9.6" height="4.3" fill="#2d4d82"/>
<text x="385.00" y="201.21" font-size="7.4" text-anchor="start" fill="#2a2a2a" stroke="#2a2a2a" stroke-width="0.22" font-weight="normal" font-style="normal" >WT</text>
<text x="385.00" y="211.11" font-size="7.4" text-anchor="start" fill="#2a2a2a" stroke="#2a2a2a" stroke-width="0.22" font-weight="normal" font-style="normal" >KO</text>
<text transform="translate(384.65,303.00) rotate(-45) scale(1.0,1)" font-size="8" text-anchor="end" fill="#2a2a2a" stroke="#2a2a2a" stroke-width="0.22" font-weight="normal">NS</text>
<text transform="translate(406.20,303.00) rotate(-45) scale(1.0,1)" font-size="8" text-anchor="end" fill="#2a2a2a" stroke="#2a2a2a" stroke-width="0.22" font-weight="normal">LPS</text>
<text transform="translate(427.95,303.00) rotate(-45) scale(1.0,1)" font-size="8" text-anchor="end" fill="#2a2a2a" stroke="#2a2a2a" stroke-width="0.22" font-weight="normal">Zym</text>
<text x="480.50" y="188.60" font-size="9.2" text-anchor="middle" fill="#2a2a2a" stroke="#2a2a2a" stroke-width="0.22" font-weight="normal" font-style="italic" >Tgfb1</text>
<line x1="448.50" y1="198.20" x2="448.50" y2="294.00" stroke="#222" stroke-width="1.1" />
<line x1="445.10" y1="293.50" x2="448.50" y2="293.50" stroke="#222" stroke-width="1.1" />
<text x="442.60" y="296.38" font-size="8.1" text-anchor="end" fill="#2a2a2a" stroke="#2a2a2a" stroke-width="0.22" font-weight="normal" font-style="normal" >0</text>
<line x1="445.10" y1="270.38" x2="448.50" y2="270.38" stroke="#222" stroke-width="1.1" />
<text x="442.60" y="273.25" font-size="8.1" text-anchor="end" fill="#2a2a2a" stroke="#2a2a2a" stroke-width="0.22" font-weight="normal" font-style="normal" >2</text>
<line x1="445.10" y1="247.25" x2="448.50" y2="247.25" stroke="#222" stroke-width="1.1" />
<text x="442.60" y="250.13" font-size="8.1" text-anchor="end" fill="#2a2a2a" stroke="#2a2a2a" stroke-width="0.22" font-weight="normal" font-style="normal" >4</text>
<line x1="445.10" y1="224.12" x2="448.50" y2="224.12" stroke="#222" stroke-width="1.1" />
<text x="442.60" y="227.00" font-size="8.1" text-anchor="end" fill="#2a2a2a" stroke="#2a2a2a" stroke-width="0.22" font-weight="normal" font-style="normal" >6</text>
<line x1="445.10" y1="201.00" x2="448.50" y2="201.00" stroke="#222" stroke-width="1.1" />
<text x="442.60" y="203.88" font-size="8.1" text-anchor="end" fill="#2a2a2a" stroke="#2a2a2a" stroke-width="0.22" font-weight="normal" font-style="normal" >8</text>
<line x1="454.40" y1="233.80" x2="454.40" y2="231.50" stroke="#222" stroke-width="1.0" />
<line x1="452.24" y1="231.50" x2="456.56" y2="231.50" stroke="#222" stroke-width="1.2" />
<rect x="451.70" y="233.80" width="5.40" height="59.70" fill="#a8062c" stroke="#7d0620" stroke-width="0.7"/>
<line x1="462.30" y1="223.80" x2="462.30" y2="206.20" stroke="#222" stroke-width="1.0" />
<line x1="460.00" y1="206.20" x2="464.60" y2="206.20" stroke="#222" stroke-width="1.2" />
<rect x="459.40" y="223.80" width="5.80" height="69.70" fill="#2d4d82" stroke="#1e3560" stroke-width="0.7"/>
<line x1="476.25" y1="245.00" x2="476.25" y2="240.00" stroke="#222" stroke-width="1.0" />
<line x1="474.05" y1="240.00" x2="478.45" y2="240.00" stroke="#222" stroke-width="1.2" />
<rect x="473.50" y="245.00" width="5.50" height="48.50" fill="#a8062c" stroke="#7d0620" stroke-width="0.7"/>
<line x1="484.10" y1="221.50" x2="484.10" y2="208.10" stroke="#222" stroke-width="1.0" />
<line x1="481.80" y1="208.10" x2="486.40" y2="208.10" stroke="#222" stroke-width="1.2" />
<rect x="481.20" y="221.50" width="5.80" height="72.00" fill="#2d4d82" stroke="#1e3560" stroke-width="0.7"/>
<line x1="498.20" y1="256.00" x2="498.20" y2="249.20" stroke="#222" stroke-width="1.0" />
<line x1="496.12" y1="249.20" x2="500.28" y2="249.20" stroke="#222" stroke-width="1.2" />
<rect x="495.60" y="256.00" width="5.20" height="37.50" fill="#a8062c" stroke="#7d0620" stroke-width="0.7"/>
<line x1="506.20" y1="246.30" x2="506.20" y2="240.60" stroke="#222" stroke-width="1.0" />
<line x1="503.90" y1="240.60" x2="508.50" y2="240.60" stroke="#222" stroke-width="1.2" />
<rect x="503.30" y="246.30" width="5.80" height="47.20" fill="#2d4d82" stroke="#1e3560" stroke-width="0.7"/>
<line x1="448.00" y1="293.50" x2="512.70" y2="293.50" stroke="#222" stroke-width="1.2" />
<line x1="458.25" y1="293.50" x2="458.25" y2="296.00" stroke="#222" stroke-width="1.2" />
<line x1="480.10" y1="293.50" x2="480.10" y2="296.00" stroke="#222" stroke-width="1.2" />
<line x1="502.05" y1="293.50" x2="502.05" y2="296.00" stroke="#222" stroke-width="1.2" />
<rect x="488.30" y="196.40" width="9.6" height="4.3" fill="#a8062c"/>
<rect x="488.30" y="206.30" width="9.6" height="4.3" fill="#2d4d82"/>
<text x="500.80" y="201.21" font-size="7.4" text-anchor="start" fill="#2a2a2a" stroke="#2a2a2a" stroke-width="0.22" font-weight="normal" font-style="normal" >WT</text>
<text x="500.80" y="211.11" font-size="7.4" text-anchor="start" fill="#2a2a2a" stroke="#2a2a2a" stroke-width="0.22" font-weight="normal" font-style="normal" >KO</text>
<text transform="translate(462.55,303.00) rotate(-45) scale(1.0,1)" font-size="8" text-anchor="end" fill="#2a2a2a" stroke="#2a2a2a" stroke-width="0.22" font-weight="normal">NS</text>
<text transform="translate(484.40,303.00) rotate(-45) scale(1.0,1)" font-size="8" text-anchor="end" fill="#2a2a2a" stroke="#2a2a2a" stroke-width="0.22" font-weight="normal">LPS</text>
<text transform="translate(506.35,303.00) rotate(-45) scale(1.0,1)" font-size="8" text-anchor="end" fill="#2a2a2a" stroke="#2a2a2a" stroke-width="0.22" font-weight="normal">Zym</text>
<line x1="42.70" y1="273.80" x2="52.90" y2="273.80" stroke="#222" stroke-width="1.2" />
<line x1="42.90" y1="271.30" x2="42.90" y2="276.30" stroke="#222" stroke-width="1.5" />
<line x1="52.70" y1="271.30" x2="52.70" y2="276.30" stroke="#222" stroke-width="1.5" />
<text x="47.80" y="272.00" font-size="8.2" text-anchor="middle" fill="#2a2a2a" stroke="#2a2a2a" stroke-width="0.22" font-weight="bold" font-style="normal" >*</text>
<line x1="64.00" y1="252.50" x2="74.40" y2="252.50" stroke="#222" stroke-width="1.2" />
<line x1="64.20" y1="250.00" x2="64.20" y2="255.00" stroke="#222" stroke-width="1.5" />
<line x1="74.20" y1="250.00" x2="74.20" y2="255.00" stroke="#222" stroke-width="1.5" />
<text x="69.20" y="250.80" font-size="8.2" text-anchor="middle" fill="#2a2a2a" stroke="#2a2a2a" stroke-width="0.22" font-weight="bold" font-style="normal" >*</text>
<line x1="81.20" y1="209.90" x2="91.80" y2="209.90" stroke="#222" stroke-width="1.2" />
<line x1="81.40" y1="207.40" x2="81.40" y2="212.40" stroke="#222" stroke-width="1.5" />
<line x1="91.60" y1="207.40" x2="91.60" y2="212.40" stroke="#222" stroke-width="1.5" />
<text x="86.50" y="208.30" font-size="8.2" text-anchor="middle" fill="#2a2a2a" stroke="#2a2a2a" stroke-width="0.22" font-weight="bold" font-style="normal" >*</text>
<line x1="164.30" y1="222.50" x2="175.00" y2="222.50" stroke="#222" stroke-width="1.2" />
<line x1="164.50" y1="220.00" x2="164.50" y2="225.00" stroke="#222" stroke-width="1.5" />
<line x1="174.80" y1="220.00" x2="174.80" y2="225.00" stroke="#222" stroke-width="1.5" />
<text x="169.65" y="221.00" font-size="8.2" text-anchor="middle" fill="#2a2a2a" stroke="#2a2a2a" stroke-width="0.22" font-weight="bold" font-style="normal" >**</text>
<text transform="translate(16.00,244.00) rotate(-90)" font-size="8.4" text-anchor="middle" fill="#2a2a2a" stroke="#2a2a2a" stroke-width="0.3" font-weight="normal" textLength="83.2" lengthAdjust="spacingAndGlyphs">mRNA expression/<tspan font-style="italic">Hprt</tspan> (AU)</text>
<text x="7.20" y="341.40" font-size="10" text-anchor="start" fill="#000" stroke="#000" stroke-width="0.22" font-weight="bold" font-style="normal" >C</text>
<text x="20.50" y="341.20" font-size="9" text-anchor="start" fill="#000" stroke="#000" stroke-width="0.22" font-weight="bold" font-style="normal" >i</text>
<text x="194.00" y="340.80" font-size="9" text-anchor="start" fill="#000" stroke="#000" stroke-width="0.22" font-weight="bold" font-style="normal" >ii</text>
<text x="65.80" y="351.30" font-size="9" text-anchor="middle" fill="#2a2a2a" stroke="#2a2a2a" stroke-width="0.22" font-weight="normal" font-style="normal" >MLR</text>
<line x1="47.00" y1="355.40" x2="47.00" y2="458.00" stroke="#222" stroke-width="1.1" />
<line x1="43.60" y1="457.50" x2="47.00" y2="457.50" stroke="#222" stroke-width="1.1" />
<text x="41.10" y="460.38" font-size="8.1" text-anchor="end" fill="#2a2a2a" stroke="#2a2a2a" stroke-width="0.22" font-weight="normal" font-style="normal" >0</text>
<line x1="43.60" y1="424.40" x2="47.00" y2="424.40" stroke="#222" stroke-width="1.1" />
<text x="41.10" y="427.28" font-size="8.1" text-anchor="end" fill="#2a2a2a" stroke="#2a2a2a" stroke-width="0.22" font-weight="normal" font-style="normal" >20</text>
<line x1="43.60" y1="391.30" x2="47.00" y2="391.30" stroke="#222" stroke-width="1.1" />
<text x="41.10" y="394.18" font-size="8.1" text-anchor="end" fill="#2a2a2a" stroke="#2a2a2a" stroke-width="0.22" font-weight="normal" font-style="normal" >40</text>
<line x1="43.60" y1="358.20" x2="47.00" y2="358.20" stroke="#222" stroke-width="1.1" />
<text x="41.10" y="361.08" font-size="8.1" text-anchor="end" fill="#2a2a2a" stroke="#2a2a2a" stroke-width="0.22" font-weight="normal" font-style="normal" >60</text>
<line x1="56.45" y1="415.00" x2="56.45" y2="413.90" stroke="#222" stroke-width="1.0" />
<line x1="53.95" y1="413.90" x2="58.95" y2="413.90" stroke="#222" stroke-width="1.2" />
<rect x="50.10" y="415.00" width="12.70" height="42.50" fill="#a8062c" stroke="#7d0620" stroke-width="0.7"/>
<line x1="75.25" y1="381.90" x2="75.25" y2="372.80" stroke="#222" stroke-width="1.0" />
<line x1="72.75" y1="372.80" x2="77.75" y2="372.80" stroke="#222" stroke-width="1.2" />
<rect x="68.80" y="381.90" width="12.90" height="75.60" fill="#2d4d82" stroke="#1e3560" stroke-width="0.7"/>
<line x1="46.50" y1="457.50" x2="84.60" y2="457.50" stroke="#222" stroke-width="1.2" />
<line x1="56.50" y1="457.50" x2="56.50" y2="460.00" stroke="#222" stroke-width="1.2" />
<line x1="75.20" y1="457.50" x2="75.20" y2="460.00" stroke="#222" stroke-width="1.2" />
<line x1="57.50" y1="366.70" x2="77.80" y2="366.70" stroke="#222" stroke-width="1.2" />
<line x1="57.70" y1="364.20" x2="57.70" y2="369.20" stroke="#222" stroke-width="1.5" />
<line x1="77.60" y1="364.20" x2="77.60" y2="369.20" stroke="#222" stroke-width="1.5" />
<text x="67.65" y="365.30" font-size="8.2" text-anchor="middle" fill="#2a2a2a" stroke="#2a2a2a" stroke-width="0.22" font-weight="bold" font-style="normal" >**</text>
<text transform="translate(59.50,463.30) rotate(-45) scale(1.0,1)" font-size="8" text-anchor="end" fill="#2a2a2a" stroke="#2a2a2a" stroke-width="0.22" font-weight="normal">WT</text>
<text transform="translate(78.20,463.30) rotate(-45) scale(1.0,1)" font-size="8" text-anchor="end" fill="#2a2a2a" stroke="#2a2a2a" stroke-width="0.22" font-weight="normal">KO</text>
<text transform="translate(25.30,407.40) rotate(-90)" font-size="9.4" text-anchor="middle" fill="#2a2a2a" stroke="#2a2a2a" stroke-width="0.05" font-weight="bold" textLength="90.6" lengthAdjust="spacingAndGlyphs">Proliferation (% CFSE dilution)</text>
<text x="91.30" y="372.80" font-size="7.8" text-anchor="start" fill="#2a2a2a" stroke="#2a2a2a" stroke-width="0.22" font-weight="normal" font-style="normal" >WT</text>
<text x="92.50" y="433.30" font-size="7.8" text-anchor="start" fill="#2a2a2a" stroke="#2a2a2a" stroke-width="0.22" font-weight="normal" font-style="normal" >KO</text>
<text x="240.30" y="348.80" font-size="9" text-anchor="middle" fill="#2a2a2a" stroke="#2a2a2a" stroke-width="0.22" font-weight="normal" font-style="normal" >IL-17</text>
<line x1="223.10" y1="355.10" x2="223.10" y2="458.00" stroke="#222" stroke-width="1.1" />
<line x1="219.70" y1="457.50" x2="223.10" y2="457.50" stroke="#222" stroke-width="1.1" />
<text x="217.20" y="460.38" font-size="8.1" text-anchor="end" fill="#2a2a2a" stroke="#2a2a2a" stroke-width="0.22" font-weight="normal" font-style="normal" >0</text>
<line x1="219.70" y1="424.30" x2="223.10" y2="424.30" stroke="#222" stroke-width="1.1" />
<text x="217.20" y="427.18" font-size="8.1" text-anchor="end" fill="#2a2a2a" stroke="#2a2a2a" stroke-width="0.22" font-weight="normal" font-style="normal" >5</text>
<line x1="219.70" y1="391.10" x2="223.10" y2="391.10" stroke="#222" stroke-width="1.1" />
<text x="217.20" y="393.98" font-size="8.1" text-anchor="end" fill="#2a2a2a" stroke="#2a2a2a" stroke-width="0.22" font-weight="normal" font-style="normal" >10</text>
<line x1="219.70" y1="357.90" x2="223.10" y2="357.90" stroke="#222" stroke-width="1.1" />
<text x="217.20" y="360.78" font-size="8.1" text-anchor="end" fill="#2a2a2a" stroke="#2a2a2a" stroke-width="0.22" font-weight="normal" font-style="normal" >15</text>
<line x1="231.65" y1="405.40" x2="231.65" y2="399.20" stroke="#222" stroke-width="1.0" />
<line x1="229.15" y1="399.20" x2="234.15" y2="399.20" stroke="#222" stroke-width="1.2" />
<rect x="225.40" y="405.40" width="12.50" height="52.10" fill="#a8062c" stroke="#7d0620" stroke-width="0.7"/>
<line x1="248.95" y1="367.10" x2="248.95" y2="361.30" stroke="#222" stroke-width="1.0" />
<line x1="246.45" y1="361.30" x2="251.45" y2="361.30" stroke="#222" stroke-width="1.2" />
<rect x="242.70" y="367.10" width="12.50" height="90.40" fill="#2d4d82" stroke="#1e3560" stroke-width="0.7"/>
<line x1="222.60" y1="457.50" x2="257.70" y2="457.50" stroke="#222" stroke-width="1.2" />
<line x1="231.60" y1="457.50" x2="231.60" y2="460.00" stroke="#222" stroke-width="1.2" />
<line x1="249.00" y1="457.50" x2="249.00" y2="460.00" stroke="#222" stroke-width="1.2" />
<line x1="230.20" y1="365.20" x2="240.80" y2="365.20" stroke="#222" stroke-width="1.2" />
<line x1="230.40" y1="362.70" x2="230.40" y2="367.70" stroke="#222" stroke-width="1.5" />
<line x1="240.60" y1="362.70" x2="240.60" y2="367.70" stroke="#222" stroke-width="1.5" />
<text x="235.50" y="363.30" font-size="8.2" text-anchor="middle" fill="#2a2a2a" stroke="#2a2a2a" stroke-width="0.22" font-weight="bold" font-style="normal" >**</text>
<text transform="translate(234.50,463.30) rotate(-45) scale(1.0,1)" font-size="8" text-anchor="end" fill="#2a2a2a" stroke="#2a2a2a" stroke-width="0.22" font-weight="normal">WT</text>
<text transform="translate(252.00,463.30) rotate(-45) scale(1.0,1)" font-size="8" text-anchor="end" fill="#2a2a2a" stroke="#2a2a2a" stroke-width="0.22" font-weight="normal">KO</text>
<text transform="translate(201.20,406.40) rotate(-90)" font-size="8.8" text-anchor="middle" fill="#2a2a2a" stroke="#2a2a2a" stroke-width="0.05" font-weight="bold" textLength="71.1" lengthAdjust="spacingAndGlyphs">IL-17<tspan font-size="5.5" dy="-2.8">+</tspan><tspan dy="2.8"> CD4</tspan><tspan font-size="5.5" dy="-2.8">+</tspan><tspan dy="2.8"> T cells (%)</tspan></text>
<text x="311.00" y="348.40" font-size="9" text-anchor="middle" fill="#2a2a2a" stroke="#2a2a2a" stroke-width="0.22" font-weight="normal" font-style="normal" >IFN-γ</text>
<line x1="294.60" y1="354.10" x2="294.60" y2="458.00" stroke="#222" stroke-width="1.1" />
<line x1="291.20" y1="457.50" x2="294.60" y2="457.50" stroke="#222" stroke-width="1.1" />
<text x="288.70" y="460.38" font-size="8.1" text-anchor="end" fill="#2a2a2a" stroke="#2a2a2a" stroke-width="0.22" font-weight="normal" font-style="normal" >0</text>
<line x1="291.20" y1="432.35" x2="294.60" y2="432.35" stroke="#222" stroke-width="1.1" />
<text x="288.70" y="435.23" font-size="8.1" text-anchor="end" fill="#2a2a2a" stroke="#2a2a2a" stroke-width="0.22" font-weight="normal" font-style="normal" >4</text>
<line x1="291.20" y1="407.20" x2="294.60" y2="407.20" stroke="#222" stroke-width="1.1" />
<text x="288.70" y="410.08" font-size="8.1" text-anchor="end" fill="#2a2a2a" stroke="#2a2a2a" stroke-width="0.22" font-weight="normal" font-style="normal" >8</text>
<line x1="291.20" y1="382.05" x2="294.60" y2="382.05" stroke="#222" stroke-width="1.1" />
<text x="288.70" y="384.93" font-size="8.1" text-anchor="end" fill="#2a2a2a" stroke="#2a2a2a" stroke-width="0.22" font-weight="normal" font-style="normal" >12</text>
<line x1="291.20" y1="356.90" x2="294.60" y2="356.90" stroke="#222" stroke-width="1.1" />
<text x="288.70" y="359.78" font-size="8.1" text-anchor="end" fill="#2a2a2a" stroke="#2a2a2a" stroke-width="0.22" font-weight="normal" font-style="normal" >16</text>
<line x1="302.35" y1="376.50" x2="302.35" y2="372.30" stroke="#222" stroke-width="1.0" />
<line x1="299.85" y1="372.30" x2="304.85" y2="372.30" stroke="#222" stroke-width="1.2" />
<rect x="296.20" y="376.50" width="12.30" height="81.00" fill="#a8062c" stroke="#7d0620" stroke-width="0.7"/>
<line x1="319.15" y1="373.30" x2="319.15" y2="360.40" stroke="#222" stroke-width="1.0" />
<line x1="316.65" y1="360.40" x2="321.65" y2="360.40" stroke="#222" stroke-width="1.2" />
<rect x="312.50" y="373.30" width="13.30" height="84.20" fill="#2d4d82" stroke="#1e3560" stroke-width="0.7"/>
<line x1="294.10" y1="457.50" x2="327.70" y2="457.50" stroke="#222" stroke-width="1.2" />
<line x1="302.50" y1="457.50" x2="302.50" y2="460.00" stroke="#222" stroke-width="1.2" />
<line x1="319.20" y1="457.50" x2="319.20" y2="460.00" stroke="#222" stroke-width="1.2" />
<text transform="translate(305.30,463.30) rotate(-45) scale(1.0,1)" font-size="8" text-anchor="end" fill="#2a2a2a" stroke="#2a2a2a" stroke-width="0.22" font-weight="normal">WT</text>
<text transform="translate(322.30,463.30) rotate(-45) scale(1.0,1)" font-size="8" text-anchor="end" fill="#2a2a2a" stroke="#2a2a2a" stroke-width="0.22" font-weight="normal">KO</text>
<text transform="translate(271.60,406.20) rotate(-90)" font-size="8.8" text-anchor="middle" fill="#2a2a2a" stroke="#2a2a2a" stroke-width="0.05" font-weight="bold" textLength="69.4" lengthAdjust="spacingAndGlyphs">IFN-γ CD4<tspan font-size="5.5" dy="-2.8">+</tspan><tspan dy="2.8"> T cells (%)</tspan></text>
<text x="339.80" y="372.00" font-size="7.8" text-anchor="start" fill="#2a2a2a" stroke="#2a2a2a" stroke-width="0.22" font-weight="normal" font-style="normal" >WT</text>
<text x="340.80" y="432.40" font-size="7.8" text-anchor="start" fill="#2a2a2a" stroke="#2a2a2a" stroke-width="0.22" font-weight="normal" font-style="normal" >KO</text>
<path d="M110.50,396.80 L116.00,396.60 L120.00,395.80 L124.00,392.80 L127.00,390.60 L130.50,389.60 L133.50,390.20 L137.00,391.60 L139.00,392.50 L140.30,392.00 L142.20,393.80 L144.70,393.00 L147.30,395.00 L149.50,394.60 L151.50,394.00 L153.70,396.00 L156.00,396.00 L158.50,394.50 L160.30,390.00 L161.80,378.00 L163.00,358.00 L164.00,346.00 L164.60,344.00 L165.30,346.00 L166.20,360.00 L167.20,380.00 L168.30,387.00 L170.00,391.00 L173.00,393.20 L177.00,394.80 L181.00,396.30 L183.00,396.80 Z" fill="#a8062c" stroke="#7d0620" stroke-width="0.6"/>
<path d="M110,397.2 L110,344.1 Q110,342.6 111.5,342.6 L183.3,342.6 L183.3,397.2 Z" fill="none" stroke="#222" stroke-width="1.1"/>
<line x1="107.20" y1="343.20" x2="110.00" y2="343.20" stroke="#222" stroke-width="0.9" />
<line x1="108.30" y1="346.58" x2="110.00" y2="346.58" stroke="#222" stroke-width="0.9" />
<line x1="108.30" y1="349.95" x2="110.00" y2="349.95" stroke="#222" stroke-width="0.9" />
<line x1="108.30" y1="353.33" x2="110.00" y2="353.33" stroke="#222" stroke-width="0.9" />
<line x1="107.20" y1="356.70" x2="110.00" y2="356.70" stroke="#222" stroke-width="0.9" />
<line x1="108.30" y1="360.08" x2="110.00" y2="360.08" stroke="#222" stroke-width="0.9" />
<line x1="108.30" y1="363.45" x2="110.00" y2="363.45" stroke="#222" stroke-width="0.9" />
<line x1="108.30" y1="366.83" x2="110.00" y2="366.83" stroke="#222" stroke-width="0.9" />
<line x1="107.20" y1="370.20" x2="110.00" y2="370.20" stroke="#222" stroke-width="0.9" />
<line x1="108.30" y1="373.58" x2="110.00" y2="373.58" stroke="#222" stroke-width="0.9" />
<line x1="108.30" y1="376.95" x2="110.00" y2="376.95" stroke="#222" stroke-width="0.9" />
<line x1="108.30" y1="380.33" x2="110.00" y2="380.33" stroke="#222" stroke-width="0.9" />
<line x1="107.20" y1="383.70" x2="110.00" y2="383.70" stroke="#222" stroke-width="0.9" />
<line x1="108.30" y1="387.08" x2="110.00" y2="387.08" stroke="#222" stroke-width="0.9" />
<line x1="108.30" y1="390.45" x2="110.00" y2="390.45" stroke="#222" stroke-width="0.9" />
<line x1="108.30" y1="393.82" x2="110.00" y2="393.82" stroke="#222" stroke-width="0.9" />
<line x1="107.20" y1="397.20" x2="110.00" y2="397.20" stroke="#222" stroke-width="0.9" />
<line x1="113.80" y1="397.20" x2="113.80" y2="399.70" stroke="#222" stroke-width="0.9" />
<line x1="118.30" y1="397.20" x2="118.30" y2="398.70" stroke="#222" stroke-width="0.9" />
<line x1="122.80" y1="397.20" x2="122.80" y2="398.70" stroke="#222" stroke-width="0.9" />
<line x1="127.30" y1="397.20" x2="127.30" y2="398.70" stroke="#222" stroke-width="0.9" />
<line x1="131.80" y1="397.20" x2="131.80" y2="399.70" stroke="#222" stroke-width="0.9" />
<line x1="136.30" y1="397.20" x2="136.30" y2="398.70" stroke="#222" stroke-width="0.9" />
<line x1="140.80" y1="397.20" x2="140.80" y2="398.70" stroke="#222" stroke-width="0.9" />
<line x1="145.30" y1="397.20" x2="145.30" y2="398.70" stroke="#222" stroke-width="0.9" />
<line x1="149.80" y1="397.20" x2="149.80" y2="399.70" stroke="#222" stroke-width="0.9" />
<line x1="154.30" y1="397.20" x2="154.30" y2="398.70" stroke="#222" stroke-width="0.9" />
<line x1="158.80" y1="397.20" x2="158.80" y2="398.70" stroke="#222" stroke-width="0.9" />
<line x1="163.30" y1="397.20" x2="163.30" y2="398.70" stroke="#222" stroke-width="0.9" />
<line x1="167.80" y1="397.20" x2="167.80" y2="399.70" stroke="#222" stroke-width="0.9" />
<line x1="172.30" y1="397.20" x2="172.30" y2="398.70" stroke="#222" stroke-width="0.9" />
<line x1="176.80" y1="397.20" x2="176.80" y2="398.70" stroke="#222" stroke-width="0.9" />
<line x1="181.30" y1="397.20" x2="181.30" y2="398.70" stroke="#222" stroke-width="0.9" />
<line x1="110.00" y1="397.20" x2="183.30" y2="397.20" stroke="#222" stroke-width="1.1" />
<text x="133.40" y="354.70" font-size="7.8" text-anchor="middle" fill="#2a2a2a" stroke="#2a2a2a" stroke-width="0.22" font-weight="normal" font-style="normal" >30%</text>
<line x1="112.00" y1="356.90" x2="155.00" y2="356.90" stroke="#222" stroke-width="1.1" />
<line x1="112.00" y1="355.30" x2="112.00" y2="358.50" stroke="#222" stroke-width="1.1" />
<line x1="155.00" y1="355.30" x2="155.00" y2="358.50" stroke="#222" stroke-width="1.1" />
<path d="M110.50,457.90 L114.40,457.60 L119.20,455.70 L122.10,452.80 L124.00,448.00 L126.00,443.20 L128.50,439.30 L130.80,436.30 L132.70,438.40 L134.60,441.30 L137.50,444.20 L140.40,446.10 L141.90,447.60 L143.30,450.60 L145.20,449.30 L147.10,450.30 L149.00,453.60 L151.00,452.60 L152.90,452.40 L154.80,454.60 L156.70,455.30 L158.70,453.80 L160.00,449.90 L161.90,442.20 L163.50,426.80 L164.80,405.80 L166.00,417.20 L167.30,436.50 L168.30,449.00 L170.20,450.90 L173.10,451.80 L176.00,453.80 L178.80,456.70 L180.80,457.90 L183.00,457.90 Z" fill="#2d4d82" stroke="#1e3560" stroke-width="0.6"/>
<path d="M110,458.2 L110,404.9 Q110,403.4 111.5,403.4 L183.1,403.4 L183.1,458.2 Z" fill="none" stroke="#222" stroke-width="1.1"/>
<line x1="107.20" y1="404.00" x2="110.00" y2="404.00" stroke="#222" stroke-width="0.9" />
<line x1="108.30" y1="407.39" x2="110.00" y2="407.39" stroke="#222" stroke-width="0.9" />
<line x1="108.30" y1="410.77" x2="110.00" y2="410.77" stroke="#222" stroke-width="0.9" />
<line x1="108.30" y1="414.16" x2="110.00" y2="414.16" stroke="#222" stroke-width="0.9" />
<line x1="107.20" y1="417.55" x2="110.00" y2="417.55" stroke="#222" stroke-width="0.9" />
<line x1="108.30" y1="420.94" x2="110.00" y2="420.94" stroke="#222" stroke-width="0.9" />
<line x1="108.30" y1="424.32" x2="110.00" y2="424.32" stroke="#222" stroke-width="0.9" />
<line x1="108.30" y1="427.71" x2="110.00" y2="427.71" stroke="#222" stroke-width="0.9" />
<line x1="107.20" y1="431.10" x2="110.00" y2="431.10" stroke="#222" stroke-width="0.9" />
<line x1="108.30" y1="434.49" x2="110.00" y2="434.49" stroke="#222" stroke-width="0.9" />
<line x1="108.30" y1="437.88" x2="110.00" y2="437.88" stroke="#222" stroke-width="0.9" />
<line x1="108.30" y1="441.26" x2="110.00" y2="441.26" stroke="#222" stroke-width="0.9" />
<line x1="107.20" y1="444.65" x2="110.00" y2="444.65" stroke="#222" stroke-width="0.9" />
<line x1="108.30" y1="448.04" x2="110.00" y2="448.04" stroke="#222" stroke-width="0.9" />
<line x1="108.30" y1="451.43" x2="110.00" y2="451.43" stroke="#222" stroke-width="0.9" />
<line x1="108.30" y1="454.81" x2="110.00" y2="454.81" stroke="#222" stroke-width="0.9" />
<line x1="107.20" y1="458.20" x2="110.00" y2="458.20" stroke="#222" stroke-width="0.9" />
<line x1="113.80" y1="458.20" x2="113.80" y2="460.70" stroke="#222" stroke-width="0.9" />
<line x1="118.30" y1="458.20" x2="118.30" y2="459.70" stroke="#222" stroke-width="0.9" />
<line x1="122.80" y1="458.20" x2="122.80" y2="459.70" stroke="#222" stroke-width="0.9" />
<line x1="127.30" y1="458.20" x2="127.30" y2="459.70" stroke="#222" stroke-width="0.9" />
<line x1="131.80" y1="458.20" x2="131.80" y2="460.70" stroke="#222" stroke-width="0.9" />
<line x1="136.30" y1="458.20" x2="136.30" y2="459.70" stroke="#222" stroke-width="0.9" />
<line x1="140.80" y1="458.20" x2="140.80" y2="459.70" stroke="#222" stroke-width="0.9" />
<line x1="145.30" y1="458.20" x2="145.30" y2="459.70" stroke="#222" stroke-width="0.9" />
<line x1="149.80" y1="458.20" x2="149.80" y2="460.70" stroke="#222" stroke-width="0.9" />
<line x1="154.30" y1="458.20" x2="154.30" y2="459.70" stroke="#222" stroke-width="0.9" />
<line x1="158.80" y1="458.20" x2="158.80" y2="459.70" stroke="#222" stroke-width="0.9" />
<line x1="163.30" y1="458.20" x2="163.30" y2="459.70" stroke="#222" stroke-width="0.9" />
<line x1="167.80" y1="458.20" x2="167.80" y2="460.70" stroke="#222" stroke-width="0.9" />
<line x1="172.30" y1="458.20" x2="172.30" y2="459.70" stroke="#222" stroke-width="0.9" />
<line x1="176.80" y1="458.20" x2="176.80" y2="459.70" stroke="#222" stroke-width="0.9" />
<line x1="181.30" y1="458.20" x2="181.30" y2="459.70" stroke="#222" stroke-width="0.9" />
<line x1="110.00" y1="458.20" x2="183.10" y2="458.20" stroke="#222" stroke-width="1.1" />
<text x="133.40" y="415.50" font-size="7.8" text-anchor="middle" fill="#2a2a2a" stroke="#2a2a2a" stroke-width="0.22" font-weight="normal" font-style="normal" >54%</text>
<line x1="112.00" y1="417.20" x2="155.00" y2="417.20" stroke="#222" stroke-width="1.1" />
<line x1="112.00" y1="415.60" x2="112.00" y2="418.80" stroke="#222" stroke-width="1.1" />
<line x1="155.00" y1="415.60" x2="155.00" y2="418.80" stroke="#222" stroke-width="1.1" />
<line x1="164.60" y1="466.90" x2="173.40" y2="466.90" stroke="#000" stroke-width="1.7" />
<path d="M178.60,466.90 L171.40,469.70 L173.40,466.90 L171.40,464.10 Z" fill="#000"/>
<text transform="translate(168.50,479.60)" font-size="9" text-anchor="middle" fill="#2a2a2a" stroke="#2a2a2a" stroke-width="0.05" font-weight="bold" textLength="14.6" lengthAdjust="spacingAndGlyphs">CFSE</text>
<rect x="357.9" y="341.9" width="59.60" height="55.40" fill="none" stroke="#777" stroke-width="1.1"/>
<line x1="383.80" y1="341.90" x2="383.80" y2="397.30" stroke="#999" stroke-width="0.9" />
<line x1="357.90" y1="372.90" x2="417.50" y2="372.90" stroke="#999" stroke-width="0.9" />
<text x="361.20" y="351.70" font-size="7.6" text-anchor="start" fill="#2a2a2a" stroke="#2a2a2a" stroke-width="0.22" font-weight="normal" font-style="normal" >0%</text>
<text x="414.60" y="351.70" font-size="7.6" text-anchor="end" fill="#2a2a2a" stroke="#2a2a2a" stroke-width="0.22" font-weight="normal" font-style="normal" >0%</text>
<text x="414.60" y="393.70" font-size="7.6" text-anchor="end" fill="#2a2a2a" stroke="#2a2a2a" stroke-width="0.22" font-weight="normal" font-style="normal" >0%</text>
<g filter="url(#soft)">
<path d="M381 376h2v1h-2zM367 377h5v1h-5zM374 377h9v1h-9zM363 378h20v1h-20zM363 379h20v1h-20zM363 380h20v1h-20zM363 381h20v1h-20zM363 382h20v1h-20zM363 383h20v1h-20zM363 384h20v1h-20zM364 385h18v1h-18zM364 386h18v1h-18zM364 387h18v1h-18zM365 388h16v1h-16zM365 389h16v1h-16zM366 390h14v1h-14zM367 391h12v1h-12zM369 392h9v1h-9zM371 393h3v1h-3z" fill="#000"/>
<path d="M379.7 356.1h0M375.3 358.4h0M363.2 360.4h0M377.0 365.5h0M372.2 366.4h0M371.7 372.4h0M373.9 372.8h0M374.0 372.2h0M369.3 373.6h0M382.6 374.7h0M367.4 375.4h0M368.8 375.1h0M378.0 375.2h0M380.3 375.5h0M380.4 375.9h0M381.3 375.3h0M383.0 375.2h0M382.9 375.8h0M382.6 375.7h0M383.6 375.2h0M361.0 376.2h0M367.5 376.7h0M367.8 376.4h0M368.3 376.2h0M369.6 376.3h0M370.0 376.1h0M370.9 376.6h0M371.9 376.2h0M371.5 376.7h0M372.5 376.0h0M375.0 376.4h0M374.2 376.5h0M374.6 376.7h0M374.7 376.0h0M374.6 376.9h0M375.9 376.4h0M375.9 376.3h0M375.6 376.8h0M375.7 376.6h0M376.1 376.6h0M377.4 376.5h0M377.5 376.6h0M377.3 376.9h0M378.3 376.9h0M379.9 376.3h0M380.2 376.7h0M381.0 377.0h0M380.8 376.9h0M383.8 376.4h0M383.3 376.5h0M360.8 377.5h0M362.1 377.3h0M363.7 377.2h0M364.1 377.2h0M364.2 377.2h0M364.1 377.2h0M365.4 377.2h0M365.1 377.3h0M366.2 377.0h0M366.1 377.4h0M366.4 377.7h0M372.7 377.6h0M373.6 377.6h0M374.0 378.0h0M373.6 377.8h0M383.4 377.2h0M383.0 377.9h0M383.7 377.8h0M359.4 378.1h0M361.9 378.2h0M361.3 378.7h0M361.3 379.0h0M362.9 378.3h0M362.1 378.1h0M362.5 378.6h0M383.0 378.3h0M383.2 378.4h0M383.4 378.4h0M384.6 378.4h0M359.7 379.7h0M361.5 379.8h0M361.6 379.1h0M362.1 379.1h0M362.0 379.2h0M362.2 379.6h0M362.6 379.6h0M362.8 379.1h0M383.4 379.1h0M359.9 380.6h0M360.7 380.6h0M361.3 380.6h0M361.1 380.5h0M362.7 380.1h0M362.3 380.1h0M383.2 380.4h0M386.6 380.2h0M359.2 381.4h0M359.9 381.1h0M360.4 381.1h0M360.6 381.0h0M361.5 382.0h0M361.0 381.3h0M361.4 381.8h0M362.6 381.4h0M362.1 381.6h0M383.5 381.2h0M383.4 381.9h0M397.9 381.2h0M399.3 382.0h0M400.1 381.0h0M359.9 382.3h0M359.3 382.0h0M361.5 382.2h0M362.3 382.6h0M362.8 382.8h0M383.2 382.9h0M383.4 382.7h0M383.1 382.4h0M359.3 383.7h0M359.4 383.3h0M360.5 383.9h0M360.2 383.9h0M361.6 383.2h0M361.6 383.7h0M361.5 383.7h0M361.5 383.8h0M362.8 383.3h0M359.8 384.0h0M359.1 384.6h0M359.5 384.8h0M361.4 384.6h0M362.0 384.2h0M362.3 384.5h0M362.6 384.4h0M383.4 385.0h0M383.2 384.0h0M383.9 384.3h0M360.3 385.7h0M360.9 385.6h0M361.8 385.8h0M362.0 385.6h0M363.5 385.9h0M360.9 386.3h0M362.5 386.6h0M362.6 386.9h0M362.3 386.8h0M362.0 386.2h0M363.7 387.0h0M363.9 386.2h0M363.1 386.3h0M363.1 386.8h0M363.8 386.1h0M385.6 386.9h0M359.1 387.0h0M359.9 387.2h0M359.3 387.1h0M359.6 387.0h0M359.8 387.3h0M359.7 387.9h0M360.9 387.7h0M360.3 387.0h0M361.6 387.6h0M361.3 387.9h0M362.3 387.3h0M363.4 387.1h0M363.7 387.9h0M359.5 388.4h0M360.8 388.4h0M361.3 389.0h0M361.5 388.4h0M361.7 388.3h0M362.8 388.9h0M362.8 388.9h0M362.1 388.7h0M363.5 388.2h0M363.0 388.9h0M364.3 388.5h0M364.6 388.3h0M364.1 388.3h0M364.2 388.9h0M364.2 388.4h0M381.0 388.9h0M381.5 388.1h0M382.0 388.2h0M382.4 388.5h0M382.4 388.2h0M392.9 388.1h0M360.1 389.1h0M360.6 389.8h0M361.1 389.2h0M361.2 389.9h0M362.6 389.5h0M364.7 389.7h0M364.7 389.4h0M364.1 389.8h0M364.4 389.4h0M381.1 389.1h0M381.3 389.3h0M381.4 389.2h0M381.9 389.4h0M383.9 389.7h0M383.3 390.0h0M385.3 389.5h0M359.7 390.3h0M360.4 390.2h0M361.3 390.1h0M361.2 390.0h0M361.2 390.7h0M363.2 390.5h0M364.1 390.6h0M365.1 390.6h0M381.0 390.3h0M381.3 390.1h0M381.5 390.9h0M361.3 391.3h0M361.9 391.5h0M362.8 391.3h0M362.1 391.6h0M362.1 391.5h0M362.6 391.8h0M363.9 391.5h0M364.3 391.0h0M364.8 391.7h0M365.2 391.6h0M366.5 391.3h0M366.7 391.5h0M366.7 391.7h0M366.9 391.9h0M380.1 391.5h0M381.1 391.2h0M383.1 391.7h0M385.5 391.8h0M359.6 392.4h0M359.8 392.8h0M360.6 392.2h0M360.7 392.3h0M361.4 392.6h0M362.7 392.7h0M362.6 392.4h0M364.9 392.4h0M365.1 392.9h0M366.5 392.2h0M366.4 392.9h0M366.7 392.5h0M366.5 392.6h0M367.1 392.4h0M367.7 392.2h0M368.2 392.8h0M368.1 392.3h0M378.2 392.9h0M378.3 392.4h0M378.9 392.1h0M379.0 392.6h0M379.6 392.8h0M385.4 392.4h0M360.0 393.7h0M359.2 394.0h0M360.2 393.1h0M363.0 393.6h0M364.1 393.5h0M365.7 393.7h0M365.2 393.6h0M366.0 394.0h0M369.0 393.7h0M368.4 393.8h0M369.7 393.9h0M369.7 393.8h0M370.0 393.8h0M369.5 393.6h0M370.1 393.3h0M370.8 393.2h0M374.3 393.3h0M374.0 393.7h0M375.1 393.8h0M375.1 393.3h0M376.6 393.3h0M376.5 393.0h0M376.0 393.5h0M377.7 394.0h0M377.3 393.4h0M377.8 393.2h0M377.1 393.9h0M377.0 393.9h0M378.8 393.3h0M381.0 393.6h0M381.0 393.7h0M380.0 393.8h0M381.0 393.9h0M381.4 393.2h0M384.9 393.0h0M359.3 394.9h0M363.0 394.4h0M362.0 394.4h0M362.5 394.5h0M363.9 394.5h0M364.3 394.3h0M364.5 394.6h0M365.5 394.5h0M366.8 394.8h0M366.6 394.1h0M366.4 394.3h0M366.2 394.3h0M367.4 394.2h0M367.6 394.4h0M368.0 394.2h0M368.1 394.7h0M368.1 394.6h0M368.3 394.5h0M369.2 394.3h0M370.1 394.1h0M370.3 394.6h0M371.8 394.1h0M371.8 394.9h0M371.8 394.1h0M371.6 394.8h0M372.5 394.6h0M372.8 394.4h0M373.4 394.5h0M373.8 394.4h0M374.6 394.0h0M374.2 394.2h0M374.2 394.5h0M374.2 394.6h0M375.2 394.5h0M378.9 394.6h0M379.4 394.9h0M380.1 394.7h0M380.1 394.1h0M381.4 394.8h0M359.0 395.2h0M359.3 395.6h0M360.6 395.6h0M360.3 395.2h0M361.1 395.6h0M364.3 396.0h0M364.6 395.9h0M364.9 395.2h0M365.6 395.3h0M367.8 395.5h0M370.9 395.0h0M370.9 395.8h0M370.1 396.0h0M372.7 395.8h0M375.1 395.1h0M375.1 395.4h0M376.4 395.5h0M376.4 395.6h0M377.0 395.8h0M377.8 395.7h0M378.7 395.6h0M378.7 395.1h0M379.2 395.5h0M380.3 395.9h0M359.5 396.3h0M359.8 396.3h0M361.3 396.3h0M363.5 396.0h0M365.0 396.0h0M366.7 396.2h0M370.2 396.1h0" fill="none" stroke="#000" stroke-width="0.8" stroke-linecap="square"/>
</g>
<rect x="357.9" y="401.9" width="59.60" height="55.40" fill="none" stroke="#777" stroke-width="1.1"/>
<line x1="383.80" y1="401.90" x2="383.80" y2="457.30" stroke="#999" stroke-width="0.9" />
<line x1="357.90" y1="433.10" x2="417.50" y2="433.10" stroke="#999" stroke-width="0.9" />
<text x="361.20" y="411.70" font-size="7.6" text-anchor="start" fill="#2a2a2a" stroke="#2a2a2a" stroke-width="0.22" font-weight="normal" font-style="normal" >0%</text>
<text x="414.60" y="411.70" font-size="7.6" text-anchor="end" fill="#2a2a2a" stroke="#2a2a2a" stroke-width="0.22" font-weight="normal" font-style="normal" >0%</text>
<text x="414.60" y="453.70" font-size="7.6" text-anchor="end" fill="#2a2a2a" stroke="#2a2a2a" stroke-width="0.22" font-weight="normal" font-style="normal" >0%</text>
<g filter="url(#soft)">
<path d="M377 437h6v1h-6zM365 438h18v1h-18zM362 439h21v1h-21zM362 440h21v1h-21zM362 441h20v1h-20zM362 442h20v1h-20zM362 443h20v1h-20zM362 444h19v1h-19zM362 445h19v1h-19zM363 446h18v1h-18zM363 447h17v1h-17zM363 448h17v1h-17zM364 449h15v1h-15zM365 450h14v1h-14zM366 451h13v1h-13zM369 452h9v1h-9zM372 453h1v1h-1z" fill="#000"/>
<path d="M373.3 410.7h0M369.8 411.7h0M399.4 412.7h0M377.0 414.9h0M392.0 414.3h0M400.6 414.8h0M366.8 415.8h0M371.9 415.3h0M375.4 415.8h0M393.5 415.4h0M395.9 415.5h0M400.4 416.2h0M364.0 417.4h0M377.2 417.6h0M387.4 418.7h0M362.0 420.6h0M371.7 421.2h0M371.6 421.9h0M377.9 422.7h0M395.0 422.7h0M394.3 423.0h0M393.8 425.0h0M394.7 425.5h0M396.7 426.6h0M401.5 426.8h0M366.1 427.2h0M402.5 427.6h0M375.0 428.9h0M391.5 428.4h0M375.6 429.6h0M399.4 431.2h0M400.3 431.4h0M363.2 432.0h0M365.1 432.7h0M367.9 432.7h0M374.6 432.4h0M363.4 433.7h0M368.6 433.5h0M395.4 433.9h0M365.3 436.7h0M367.0 436.4h0M368.3 436.8h0M369.8 436.8h0M374.1 436.5h0M378.0 436.4h0M377.5 436.7h0M377.5 436.2h0M377.7 436.9h0M378.7 436.5h0M378.2 436.9h0M380.6 436.6h0M380.2 436.4h0M380.1 436.4h0M382.0 436.6h0M381.1 436.1h0M381.4 436.2h0M382.9 436.8h0M383.8 436.4h0M362.1 438.0h0M362.2 437.8h0M362.5 437.3h0M366.5 437.8h0M366.6 437.4h0M366.5 438.0h0M368.1 437.1h0M369.5 437.8h0M369.1 437.2h0M369.2 437.5h0M369.5 437.7h0M370.8 437.5h0M370.2 437.1h0M370.3 437.6h0M370.2 437.5h0M372.0 437.4h0M371.6 437.0h0M371.2 437.3h0M371.2 437.4h0M371.9 437.2h0M373.8 437.9h0M373.7 437.8h0M374.9 437.7h0M374.9 437.8h0M375.1 437.4h0M375.8 437.3h0M375.9 437.2h0M376.7 437.3h0M376.5 437.1h0M376.4 437.7h0M376.1 437.6h0M376.9 437.5h0M376.3 437.2h0M383.7 437.7h0M383.8 437.8h0M384.6 437.4h0M360.4 438.5h0M361.7 438.4h0M361.8 438.9h0M361.5 438.6h0M363.0 438.0h0M362.7 438.6h0M362.4 438.9h0M362.1 438.2h0M363.3 438.2h0M364.7 438.9h0M364.0 438.6h0M364.6 438.6h0M364.6 438.3h0M383.9 438.2h0M383.5 438.5h0M383.1 439.0h0M383.2 438.5h0M383.1 438.3h0M384.6 438.2h0M384.7 438.9h0M360.3 439.2h0M360.1 439.2h0M360.2 439.8h0M360.3 439.4h0M361.4 439.2h0M361.3 439.8h0M361.3 439.6h0M383.9 439.9h0M384.4 439.7h0M385.3 439.5h0M359.5 440.1h0M360.6 441.0h0M361.7 440.9h0M359.4 441.9h0M359.4 441.6h0M359.6 441.5h0M360.3 441.6h0M360.1 441.8h0M360.8 441.6h0M360.3 442.0h0M360.7 441.9h0M361.8 441.6h0M361.2 441.2h0M361.5 441.6h0M382.2 441.4h0M382.6 441.0h0M382.1 441.7h0M382.4 441.4h0M384.0 441.9h0M359.3 442.9h0M361.6 442.1h0M361.5 442.1h0M361.4 442.7h0M383.0 442.4h0M359.3 443.6h0M360.7 443.1h0M360.0 443.2h0M361.5 443.7h0M361.4 443.1h0M361.1 443.0h0M361.3 443.2h0M382.7 443.5h0M382.8 443.2h0M359.3 444.7h0M359.5 444.7h0M360.9 445.0h0M360.9 444.2h0M360.9 444.6h0M361.2 444.9h0M381.4 444.3h0M381.9 444.5h0M381.3 444.2h0M382.2 444.4h0M382.1 444.3h0M382.3 444.1h0M382.2 444.1h0M384.6 444.0h0M384.7 444.6h0M360.0 445.2h0M359.9 446.0h0M360.3 445.7h0M360.4 445.2h0M361.3 445.8h0M361.8 445.4h0M361.6 445.9h0M381.1 445.7h0M382.7 445.3h0M359.5 446.5h0M359.4 446.6h0M360.8 446.4h0M360.9 446.8h0M362.6 446.1h0M362.7 446.2h0M362.3 446.0h0M362.4 446.6h0M362.7 446.4h0M362.3 446.1h0M381.1 446.4h0M381.6 446.1h0M381.1 446.8h0M382.0 446.4h0M382.8 446.4h0M383.3 446.6h0M360.7 447.3h0M360.9 447.5h0M361.7 447.6h0M361.0 447.6h0M362.7 447.9h0M362.2 447.6h0M362.1 447.2h0M380.4 447.9h0M359.0 448.3h0M360.0 448.7h0M360.8 448.2h0M361.4 448.9h0M363.0 448.7h0M380.7 448.7h0M380.4 448.9h0M380.0 448.5h0M380.9 448.5h0M385.3 448.9h0M360.2 449.7h0M361.5 449.6h0M361.0 449.0h0M362.7 449.9h0M362.8 449.6h0M363.4 449.9h0M363.4 449.3h0M379.6 449.7h0M379.1 449.4h0M379.4 449.6h0M379.4 449.3h0M379.2 449.7h0M379.3 449.2h0M380.1 449.5h0M380.3 449.6h0M385.4 449.2h0M358.9 450.4h0M359.0 451.0h0M359.9 450.9h0M361.8 450.3h0M362.7 450.3h0M363.9 450.9h0M363.5 450.2h0M364.5 450.0h0M364.6 450.4h0M364.3 450.2h0M379.5 450.1h0M379.0 451.0h0M382.3 450.7h0M383.4 450.8h0M359.3 451.4h0M359.9 451.3h0M359.8 451.6h0M360.9 451.7h0M360.2 451.4h0M360.3 451.9h0M360.2 451.9h0M361.7 451.3h0M361.7 451.6h0M362.9 451.3h0M362.2 451.3h0M362.6 451.9h0M363.8 451.9h0M364.2 451.3h0M364.5 451.5h0M365.2 451.9h0M365.6 451.6h0M365.5 451.4h0M379.8 451.0h0M380.5 451.8h0M358.9 452.9h0M359.6 452.8h0M359.8 452.9h0M360.2 452.7h0M361.4 452.9h0M361.4 452.1h0M362.3 452.8h0M362.0 452.2h0M362.6 452.7h0M363.3 452.2h0M363.7 452.8h0M364.4 452.2h0M364.3 452.0h0M365.6 453.0h0M366.3 452.1h0M367.9 452.9h0M367.5 452.6h0M367.4 452.5h0M367.5 452.5h0M367.2 452.6h0M368.8 452.1h0M369.0 452.2h0M378.5 453.0h0M378.6 452.4h0M378.2 452.8h0M378.7 452.3h0M379.8 452.9h0M383.9 452.7h0M384.7 452.6h0M360.9 453.6h0M361.0 453.7h0M361.9 453.1h0M362.7 453.9h0M363.2 453.3h0M364.0 453.6h0M363.9 453.2h0M363.6 453.2h0M364.3 453.1h0M364.5 453.8h0M365.0 453.3h0M369.2 453.2h0M369.7 453.4h0M370.3 453.4h0M370.7 453.0h0M370.4 453.4h0M370.3 453.5h0M371.2 453.7h0M371.1 453.6h0M371.0 453.8h0M371.2 453.4h0M373.5 453.5h0M374.4 454.0h0M374.5 453.3h0M374.5 453.8h0M375.4 453.1h0M375.4 453.3h0M376.5 453.3h0M378.0 453.7h0M378.4 453.9h0M380.5 453.7h0M381.4 453.9h0M359.0 454.5h0M359.6 454.2h0M359.6 454.1h0M360.3 454.4h0M361.7 455.0h0M362.1 454.7h0M362.7 454.2h0M363.6 454.7h0M363.9 454.5h0M365.5 454.7h0M366.9 454.7h0M366.3 454.3h0M366.4 454.5h0M366.8 454.5h0M366.7 454.3h0M367.4 454.7h0M369.4 454.8h0M369.7 454.8h0M370.3 454.1h0M371.8 454.3h0M371.8 454.2h0M371.7 454.0h0M372.7 454.6h0M374.4 454.4h0M374.7 454.2h0M374.6 454.2h0M374.2 454.8h0M375.5 454.0h0M376.0 454.2h0M375.8 454.2h0M376.7 454.1h0M378.1 455.0h0M378.1 454.3h0M379.7 454.4h0M380.8 454.9h0M383.4 454.6h0M359.5 455.2h0M359.5 455.1h0M359.3 455.3h0M360.6 455.8h0M360.2 455.1h0M362.1 455.4h0M362.1 455.8h0M364.3 455.9h0M367.3 455.4h0M368.0 455.2h0M367.7 455.7h0M368.4 455.5h0M368.6 455.5h0M370.6 455.3h0M371.6 455.2h0M372.0 455.8h0M372.5 455.9h0M372.5 455.9h0M373.5 455.3h0M373.3 455.4h0M374.6 455.7h0M374.8 456.0h0M375.7 455.2h0M375.9 455.9h0M375.6 455.9h0M378.0 456.0h0M379.3 455.6h0M362.7 456.3h0M363.2 456.0h0M372.8 456.2h0M373.1 456.3h0M374.5 456.2h0M374.8 456.0h0M376.4 456.1h0M377.2 456.2h0" fill="none" stroke="#000" stroke-width="0.8" stroke-linecap="square"/>
</g>
<rect x="446.9" y="341.5" width="59.50" height="55.80" fill="none" stroke="#777" stroke-width="1.1"/>
<line x1="473.80" y1="341.50" x2="473.80" y2="397.30" stroke="#999" stroke-width="0.9" />
<line x1="446.90" y1="372.30" x2="506.40" y2="372.30" stroke="#999" stroke-width="0.9" />
<g filter="url(#soft)">
<path d="M468 351h6v1h-6zM468 352h7v1h-7zM468 353h7v1h-7zM467 354h8v1h-8zM467 355h8v1h-8zM467 356h8v1h-8zM467 357h8v1h-8zM468 358h7v1h-7zM467 359h8v1h-8zM467 360h8v1h-8zM467 361h8v1h-8zM468 362h6v1h-6zM469 363h5v1h-5zM470 364h4v1h-4zM470 365h4v1h-4zM469 366h5v1h-5zM468 367h6v1h-6zM468 368h6v1h-6zM468 369h6v1h-6zM468 370h6v1h-6zM468 371h7v1h-7zM469 372h7v1h-7zM469 373h21v1h-21zM471 374h21v1h-21zM472 375h22v1h-22zM459 376h11v1h-11zM471 376h24v1h-24zM456 377h15v1h-15zM472 377h22v1h-22zM455 378h16v1h-16zM473 378h21v1h-21zM454 379h38v1h-38zM453 380h37v1h-37zM452 381h35v1h-35zM452 382h32v1h-32zM452 383h28v1h-28zM452 384h23v1h-23zM452 385h22v1h-22zM452 386h21v1h-21zM453 387h20v1h-20zM453 388h19v1h-19zM454 389h17v1h-17zM456 390h14v1h-14zM457 391h11v1h-11zM460 392h5v1h-5z" fill="#000"/>
<path d="M448.2 343.2h0M455.0 343.2h0M456.5 345.7h0M456.9 345.7h0M462.7 345.2h0M465.9 345.1h0M468.8 345.5h0M484.6 345.1h0M503.1 345.8h0M498.4 347.0h0M500.4 346.7h0M500.0 346.4h0M465.0 347.3h0M467.2 347.6h0M468.9 347.2h0M477.5 347.8h0M480.8 347.5h0M490.6 347.6h0M448.1 348.2h0M455.4 348.9h0M473.8 348.8h0M474.3 348.3h0M474.8 348.5h0M475.0 348.2h0M485.2 348.1h0M498.6 348.2h0M455.6 349.7h0M468.5 349.9h0M469.1 349.0h0M469.4 349.4h0M469.2 349.9h0M470.4 349.4h0M470.8 349.4h0M472.2 349.1h0M472.8 349.4h0M473.5 349.3h0M473.4 349.5h0M474.0 349.3h0M474.6 349.7h0M476.9 349.4h0M476.1 349.3h0M477.5 349.0h0M480.4 349.0h0M482.5 349.0h0M486.1 349.6h0M487.8 349.1h0M453.4 350.3h0M456.7 350.8h0M466.7 350.1h0M466.4 350.6h0M466.7 350.7h0M467.1 350.6h0M468.6 350.1h0M468.6 350.2h0M468.6 350.3h0M469.1 350.8h0M470.0 350.6h0M469.1 350.6h0M470.6 350.9h0M470.0 350.9h0M470.9 350.8h0M470.6 350.9h0M471.0 350.5h0M471.6 350.1h0M471.8 350.2h0M472.9 350.8h0M472.6 350.9h0M472.3 350.6h0M473.3 351.0h0M474.2 350.2h0M474.0 350.7h0M476.6 350.5h0M478.7 350.8h0M481.0 350.6h0M482.6 350.5h0M484.2 350.1h0M485.0 350.5h0M485.1 350.1h0M487.2 350.4h0M487.1 350.4h0M487.6 350.7h0M488.1 350.9h0M448.2 351.3h0M465.1 351.0h0M467.9 351.0h0M467.1 351.7h0M474.3 351.7h0M474.3 351.5h0M475.4 351.1h0M475.8 351.2h0M475.1 351.3h0M476.0 351.6h0M477.1 351.4h0M477.2 352.0h0M478.8 351.6h0M482.8 351.4h0M483.0 351.6h0M485.7 351.1h0M488.8 351.8h0M467.6 352.6h0M467.3 352.1h0M467.4 352.2h0M467.4 352.1h0M475.6 352.4h0M475.8 352.8h0M476.9 352.8h0M477.4 352.5h0M483.0 352.5h0M482.8 352.0h0M482.4 352.2h0M484.1 352.8h0M484.4 352.8h0M485.6 353.0h0M488.0 352.0h0M487.3 352.7h0M488.5 352.9h0M489.4 352.4h0M489.5 352.9h0M496.9 352.1h0M453.2 353.3h0M463.8 353.5h0M464.4 353.1h0M466.4 353.4h0M466.2 353.0h0M467.5 353.9h0M467.5 353.4h0M467.1 353.3h0M467.2 353.5h0M467.5 353.2h0M467.1 353.6h0M467.2 353.7h0M467.6 353.9h0M475.2 353.6h0M475.2 353.4h0M475.1 353.7h0M475.6 353.7h0M476.3 353.5h0M476.4 353.4h0M479.2 353.4h0M479.9 354.0h0M479.1 353.8h0M481.8 354.0h0M484.9 353.3h0M486.6 353.9h0M486.3 353.3h0M487.0 353.8h0M488.4 353.6h0M489.7 353.4h0M489.8 353.7h0M491.1 353.6h0M491.1 353.6h0M491.7 353.6h0M492.5 353.3h0M466.3 354.1h0M466.2 354.1h0M466.1 354.8h0M475.3 354.3h0M475.4 354.6h0M476.3 354.7h0M478.2 354.8h0M479.1 354.5h0M485.3 354.2h0M491.4 354.7h0M494.7 354.8h0M452.3 355.6h0M465.8 355.4h0M466.9 356.0h0M466.3 355.8h0M475.8 355.9h0M475.3 355.8h0M475.2 355.5h0M475.7 355.9h0M475.3 356.0h0M475.8 355.9h0M475.3 355.5h0M476.9 355.4h0M476.5 355.1h0M476.5 355.9h0M479.1 355.7h0M481.2 355.4h0M484.1 355.6h0M485.8 355.2h0M485.7 355.2h0M487.5 355.0h0M490.9 355.1h0M492.1 355.3h0M465.1 356.0h0M466.8 356.6h0M475.5 356.8h0M478.0 356.2h0M479.9 356.8h0M480.0 356.3h0M480.3 356.2h0M484.8 356.1h0M486.8 356.9h0M490.7 356.8h0M490.2 356.9h0M490.9 356.5h0M493.9 356.4h0M497.8 356.1h0M448.3 357.5h0M466.9 357.3h0M475.3 357.0h0M475.0 357.1h0M476.4 357.6h0M477.8 357.9h0M479.2 358.0h0M479.2 357.8h0M479.0 357.8h0M480.3 357.5h0M483.9 357.4h0M484.6 357.9h0M484.7 357.8h0M484.7 357.5h0M487.3 358.0h0M488.7 357.4h0M490.9 357.4h0M491.5 357.8h0M493.2 357.2h0M493.3 357.9h0M495.2 357.5h0M454.9 358.5h0M466.7 358.9h0M467.2 358.0h0M467.2 358.7h0M467.1 358.7h0M467.3 358.2h0M467.9 358.1h0M467.9 358.6h0M467.3 358.2h0M467.6 358.3h0M467.6 358.6h0M467.0 358.3h0M467.7 358.1h0M467.7 358.8h0M475.1 358.6h0M475.1 358.5h0M475.3 358.7h0M475.4 358.3h0M476.1 358.2h0M476.9 358.7h0M479.5 358.2h0M484.0 358.5h0M487.1 358.6h0M487.5 358.5h0M488.1 358.3h0M490.8 358.8h0M490.4 358.6h0M491.1 358.2h0M491.5 358.2h0M491.7 358.3h0M494.7 359.0h0M495.8 358.4h0M465.1 359.1h0M465.8 359.1h0M465.1 359.9h0M465.4 359.1h0M466.5 359.1h0M475.4 359.6h0M475.3 359.3h0M476.9 359.3h0M477.7 359.1h0M477.8 359.1h0M478.2 359.5h0M482.0 359.3h0M485.8 359.2h0M487.7 359.4h0M487.7 359.4h0M488.3 359.3h0M489.3 359.9h0M491.2 359.7h0M495.4 359.3h0M495.8 359.6h0M464.5 360.4h0M466.5 360.8h0M466.5 360.4h0M475.1 360.1h0M480.7 360.0h0M480.3 360.4h0M481.6 360.8h0M482.9 360.9h0M484.6 360.6h0M485.5 361.0h0M485.1 360.7h0M488.7 360.3h0M488.6 360.2h0M489.1 360.0h0M490.9 360.7h0M490.0 360.1h0M500.0 360.4h0M459.4 361.8h0M461.9 361.8h0M463.4 361.5h0M463.7 361.2h0M464.2 361.2h0M465.2 361.4h0M475.6 361.5h0M475.8 361.7h0M476.5 361.0h0M478.4 361.1h0M479.3 361.9h0M481.0 361.0h0M481.0 361.7h0M483.1 361.7h0M484.6 361.7h0M485.1 361.9h0M488.8 361.4h0M490.7 361.0h0M492.4 361.3h0M493.1 361.7h0M494.0 361.8h0M458.3 362.7h0M459.1 362.5h0M461.2 362.0h0M462.6 362.6h0M462.4 362.3h0M463.6 362.5h0M464.8 362.7h0M465.5 362.6h0M467.0 362.4h0M467.0 362.5h0M467.8 362.7h0M467.5 362.8h0M467.3 362.2h0M474.1 362.4h0M474.1 362.2h0M475.5 362.6h0M476.1 362.8h0M478.0 362.9h0M479.3 362.8h0M481.5 362.2h0M482.1 362.4h0M483.6 362.5h0M484.4 362.1h0M491.6 362.2h0M492.0 362.7h0M491.4 362.5h0M493.1 362.8h0M493.3 362.4h0M494.8 362.7h0M497.2 362.3h0M465.6 363.9h0M467.1 363.9h0M467.0 363.6h0M468.5 363.5h0M468.4 363.5h0M474.1 363.6h0M474.5 363.6h0M474.5 363.6h0M475.3 363.3h0M475.0 364.0h0M476.8 363.8h0M476.2 363.5h0M478.8 363.6h0M479.8 363.2h0M482.1 363.9h0M485.0 363.1h0M485.2 363.7h0M487.3 363.3h0M487.7 363.8h0M488.6 363.0h0M489.3 363.1h0M489.5 363.6h0M490.5 363.7h0M491.5 363.3h0M492.4 364.0h0M493.9 363.3h0M494.3 363.2h0M495.0 363.4h0M495.2 363.4h0M495.8 363.7h0M496.7 363.3h0M496.1 363.6h0M457.4 364.9h0M463.8 364.2h0M464.2 364.5h0M465.1 364.8h0M465.1 364.2h0M468.7 364.6h0M468.5 364.6h0M469.4 364.0h0M469.4 364.8h0M474.8 364.5h0M474.7 364.8h0M475.9 364.5h0M477.7 364.5h0M477.7 364.9h0M479.2 364.4h0M479.0 364.7h0M479.1 364.9h0M480.0 364.4h0M481.0 364.9h0M481.0 365.0h0M484.0 364.4h0M485.6 364.0h0M489.6 364.1h0M489.3 364.8h0M490.7 364.9h0M491.4 364.1h0M494.9 364.2h0M496.6 364.7h0M460.4 365.9h0M463.5 365.2h0M464.8 365.2h0M464.5 365.0h0M467.6 365.3h0M467.2 365.5h0M467.9 365.9h0M468.3 365.1h0M468.2 365.2h0M468.5 365.9h0M468.7 365.7h0M469.3 365.6h0M469.3 365.4h0M469.4 365.8h0M469.2 365.7h0M474.6 365.2h0M474.6 365.7h0M474.3 365.2h0M477.9 365.1h0M479.4 365.5h0M479.8 365.1h0M487.2 365.5h0M487.3 365.8h0M488.0 365.7h0M489.6 365.0h0M491.0 365.9h0M493.6 365.8h0M495.0 365.9h0M495.2 365.2h0M496.3 365.5h0M462.0 366.3h0M466.3 366.3h0M466.8 366.4h0M466.2 366.8h0M467.8 366.5h0M467.7 366.7h0M468.6 366.4h0M468.2 366.6h0M468.3 366.5h0M468.8 367.0h0M469.0 366.1h0M468.9 367.0h0M474.7 366.2h0M474.2 366.5h0M474.8 366.1h0M475.3 366.0h0M475.8 366.1h0M475.6 366.8h0M476.0 366.2h0M476.9 366.1h0M479.1 366.5h0M479.1 366.4h0M479.6 366.5h0M482.5 366.7h0M483.0 366.3h0M483.0 366.1h0M483.1 366.7h0M485.9 366.3h0M486.4 366.5h0M486.8 366.9h0M487.0 366.8h0M488.3 366.9h0M491.1 366.2h0M491.3 367.0h0M496.7 367.0h0M503.9 366.2h0M448.3 367.6h0M456.7 367.9h0M463.0 367.0h0M464.0 367.8h0M463.3 368.0h0M464.9 367.2h0M465.2 367.4h0M465.1 367.5h0M465.6 367.7h0M465.4 367.4h0M466.9 367.2h0M466.1 367.2h0M467.9 367.4h0M467.0 367.2h0M467.3 367.0h0M468.0 368.0h0M467.9 367.5h0M467.4 367.3h0M474.3 367.8h0M474.1 367.3h0M475.3 367.2h0M475.4 367.9h0M475.2 367.9h0M475.8 367.2h0M475.0 367.1h0M476.7 367.6h0M478.7 367.1h0M481.1 367.4h0M481.3 367.5h0M482.0 367.6h0M482.6 367.8h0M482.4 367.4h0M484.0 367.7h0M484.9 367.7h0M484.6 367.1h0M486.3 367.5h0M459.2 368.1h0M460.1 368.8h0M462.3 368.9h0M464.7 368.5h0M465.7 368.4h0M465.1 368.1h0M465.3 368.9h0M466.8 368.6h0M466.3 368.1h0M467.8 368.7h0M467.2 368.4h0M467.7 368.2h0M474.1 369.0h0M475.2 368.3h0M476.1 368.8h0M479.8 368.4h0M481.0 368.3h0M482.6 368.6h0M483.7 368.4h0M486.4 368.6h0M489.9 368.9h0M489.8 368.2h0M491.4 368.4h0M491.6 368.3h0M492.5 368.0h0M462.0 369.7h0M462.6 369.4h0M465.6 369.6h0M466.5 369.3h0M466.7 369.6h0M466.6 369.7h0M467.8 369.6h0M467.5 369.8h0M467.9 369.8h0M467.1 369.9h0M467.2 369.6h0M474.9 369.8h0M474.9 369.1h0M474.2 369.1h0M474.1 369.5h0M475.3 369.3h0M476.0 369.3h0M476.2 369.7h0M480.6 369.3h0M480.2 369.9h0M485.5 369.3h0M487.6 369.6h0M487.7 369.4h0M487.7 369.1h0M488.1 369.0h0M490.2 369.7h0M491.2 369.4h0M494.2 369.3h0M497.1 369.7h0M502.9 369.9h0M462.2 370.1h0M462.9 370.6h0M462.3 370.6h0M463.6 370.0h0M463.3 370.6h0M464.7 370.4h0M466.8 370.1h0M466.2 370.8h0M466.8 370.4h0M467.4 370.2h0M467.9 370.8h0M474.1 370.1h0M474.0 370.2h0M474.3 370.4h0M474.7 370.8h0M474.9 370.8h0M475.1 370.9h0M475.9 370.4h0M478.7 370.0h0M479.6 370.0h0M482.4 371.0h0M484.2 370.9h0M485.2 371.0h0M485.6 370.8h0M486.2 370.3h0M487.7 370.8h0M487.2 370.6h0M488.4 370.3h0M489.1 370.7h0M489.4 370.9h0M491.9 370.7h0M494.9 370.4h0M457.1 371.4h0M464.6 371.2h0M465.3 371.4h0M466.9 371.6h0M466.6 371.1h0M466.7 372.0h0M467.2 371.5h0M467.1 371.1h0M467.4 372.0h0M475.4 371.9h0M475.4 371.9h0M476.5 371.9h0M476.3 371.2h0M476.9 371.7h0M476.8 371.6h0M478.8 371.5h0M479.9 371.8h0M482.0 371.6h0M482.9 371.9h0M482.4 371.7h0M482.6 371.6h0M483.9 371.7h0M485.5 371.8h0M487.1 371.1h0M488.3 371.8h0M490.1 371.6h0M491.0 371.4h0M464.8 372.2h0M465.0 372.8h0M465.3 372.1h0M466.8 372.6h0M466.1 372.0h0M467.9 372.3h0M467.4 372.2h0M467.3 372.0h0M467.9 372.1h0M468.1 372.9h0M468.1 372.7h0M476.9 372.1h0M476.1 372.1h0M476.2 372.9h0M476.3 372.0h0M477.0 372.4h0M477.4 372.3h0M477.2 372.5h0M477.9 372.2h0M478.6 372.3h0M478.7 372.8h0M478.3 372.8h0M479.4 372.9h0M479.2 372.5h0M480.8 372.6h0M481.0 372.2h0M482.0 372.8h0M481.3 372.6h0M481.3 372.8h0M482.1 372.7h0M482.7 372.6h0M482.9 372.2h0M482.5 372.1h0M482.8 372.2h0M482.1 372.8h0M483.1 372.9h0M483.4 372.8h0M483.9 372.7h0M483.4 372.7h0M483.5 372.7h0M483.1 372.3h0M483.5 372.6h0M484.9 372.9h0M484.3 372.3h0M485.4 372.8h0M485.8 372.1h0M487.3 372.1h0M487.9 372.9h0M487.6 373.0h0M488.9 372.3h0M488.3 372.7h0M489.2 372.8h0M489.3 372.8h0M489.1 372.4h0M491.0 372.6h0M490.3 372.7h0M490.4 372.3h0M490.7 372.7h0M492.7 372.3h0M466.5 374.0h0M466.1 373.9h0M466.1 373.4h0M467.9 373.9h0M467.8 373.4h0M467.0 373.8h0M468.6 373.9h0M468.7 373.9h0M468.8 373.3h0M490.0 373.7h0M490.7 373.8h0M490.4 373.9h0M490.4 373.8h0M490.7 373.8h0M491.2 373.1h0M491.8 373.7h0M491.2 373.3h0M491.6 373.3h0M492.4 373.2h0M494.9 373.7h0M495.5 373.8h0M495.7 373.4h0M450.1 374.1h0M458.2 374.2h0M461.9 374.4h0M466.2 374.8h0M466.3 374.3h0M466.4 374.3h0M466.3 374.0h0M466.6 374.6h0M467.9 374.2h0M467.1 374.9h0M468.7 374.7h0M468.9 374.2h0M470.0 374.8h0M470.3 374.7h0M470.5 374.9h0M470.3 374.0h0M492.9 374.2h0M492.4 374.7h0M493.1 374.8h0M493.4 374.8h0M494.0 374.1h0M494.9 374.6h0M494.6 374.1h0M496.3 374.7h0M497.5 374.9h0M459.0 376.0h0M459.0 375.7h0M460.3 375.4h0M460.5 375.5h0M460.7 375.4h0M460.3 375.7h0M462.4 375.3h0M463.2 375.4h0M463.2 375.4h0M463.5 375.1h0M464.4 375.4h0M464.4 375.8h0M464.9 375.6h0M465.7 375.9h0M465.3 376.0h0M465.6 375.0h0M465.4 376.0h0M466.6 375.6h0M466.9 375.1h0M467.5 375.5h0M467.1 375.1h0M467.1 375.1h0M468.8 375.2h0M469.1 375.8h0M469.9 376.0h0M470.0 375.3h0M469.5 376.0h0M469.7 375.2h0M470.9 375.6h0M470.5 375.3h0M471.5 375.0h0M471.2 375.1h0M471.4 376.0h0M471.9 375.4h0M494.6 375.2h0M494.6 375.4h0M494.3 375.2h0M494.6 375.7h0M494.8 375.2h0M495.7 376.0h0M496.4 375.4h0M496.8 375.0h0M449.0 376.5h0M452.1 376.4h0M454.9 376.0h0M457.4 376.1h0M458.9 376.8h0M458.0 376.3h0M470.7 376.0h0M470.1 376.5h0M470.1 376.1h0M495.5 376.0h0M495.9 376.6h0M495.5 376.3h0M496.8 376.9h0M501.2 376.4h0M449.9 377.7h0M453.3 377.6h0M455.7 377.5h0M455.8 377.9h0M455.1 377.2h0M471.9 377.1h0M471.7 377.4h0M471.2 377.8h0M471.9 377.3h0M471.3 377.2h0M494.2 377.6h0M494.1 377.9h0M494.8 377.5h0M496.4 377.7h0M448.2 378.1h0M450.4 379.0h0M450.3 378.1h0M451.8 378.7h0M451.6 378.2h0M453.2 378.9h0M453.4 378.7h0M453.9 378.5h0M471.2 378.5h0M471.9 378.6h0M471.8 378.5h0M471.1 378.1h0M471.1 378.7h0M472.8 378.1h0M472.7 378.3h0M472.4 378.7h0M472.8 378.1h0M472.7 378.5h0M494.9 378.6h0M494.1 378.9h0M495.4 378.7h0M451.0 379.7h0M452.8 379.7h0M453.4 379.7h0M492.5 379.0h0M492.1 379.4h0M492.3 379.5h0M493.8 380.0h0M493.1 379.8h0M497.4 379.2h0M448.2 380.3h0M449.5 380.2h0M450.0 380.1h0M451.3 380.8h0M451.4 380.1h0M451.8 380.8h0M452.7 380.6h0M452.5 380.5h0M452.7 380.8h0M490.8 380.5h0M490.9 380.3h0M490.7 380.6h0M490.4 380.8h0M490.8 380.7h0M491.5 380.7h0M492.4 380.9h0M492.5 380.1h0M448.1 381.2h0M448.1 381.2h0M451.2 381.0h0M487.7 381.4h0M487.5 381.8h0M487.2 381.9h0M487.6 381.1h0M487.5 382.0h0M487.1 381.0h0M487.1 381.8h0M488.3 381.2h0M488.5 381.6h0M489.1 381.7h0M489.4 381.6h0M490.4 381.4h0M448.3 382.2h0M448.6 382.2h0M449.8 382.1h0M449.8 382.2h0M450.3 382.2h0M451.6 382.3h0M451.4 382.1h0M451.7 382.3h0M451.2 382.0h0M484.5 382.7h0M484.5 382.7h0M484.8 382.4h0M485.3 382.2h0M485.9 382.9h0M485.1 382.8h0M486.4 382.9h0M486.4 382.5h0M487.0 382.7h0M488.8 382.1h0M491.4 382.6h0M493.0 382.8h0M504.1 382.6h0M449.5 383.3h0M450.2 383.9h0M451.2 383.3h0M451.4 383.9h0M451.8 383.1h0M451.8 383.6h0M452.0 383.7h0M481.0 383.5h0M480.1 383.9h0M480.8 383.3h0M481.8 383.2h0M481.2 383.2h0M481.8 383.1h0M482.1 383.2h0M482.8 383.7h0M483.0 383.4h0M483.8 383.3h0M484.7 383.1h0M487.7 383.6h0M488.5 383.9h0M497.8 383.5h0M448.1 384.6h0M448.9 384.6h0M449.2 384.5h0M450.1 384.8h0M451.1 384.6h0M451.5 384.4h0M475.2 384.4h0M475.3 384.3h0M475.5 384.7h0M476.2 384.1h0M476.5 384.0h0M478.0 384.4h0M478.1 384.2h0M478.1 384.5h0M478.1 384.4h0M478.3 384.0h0M479.5 384.4h0M480.4 384.5h0M480.1 384.2h0M481.8 384.3h0M483.0 384.9h0M483.5 384.7h0M484.3 384.6h0M486.8 384.8h0M486.9 384.4h0M488.0 384.9h0M487.4 384.1h0M495.2 384.9h0M503.2 385.0h0M449.8 385.6h0M449.2 385.1h0M449.7 385.4h0M449.9 386.0h0M450.3 385.5h0M451.1 386.0h0M451.5 385.0h0M451.8 385.3h0M452.0 385.2h0M474.7 385.1h0M474.1 385.3h0M475.9 385.3h0M475.1 385.4h0M476.1 385.3h0M476.2 385.5h0M476.2 385.2h0M476.5 385.5h0M477.8 385.1h0M478.9 385.9h0M480.3 385.6h0M480.3 385.3h0M480.0 385.1h0M481.5 385.7h0M481.7 385.8h0M482.7 385.7h0M482.7 385.3h0M482.4 385.5h0M483.1 385.9h0M483.9 385.0h0M484.6 385.2h0M485.7 385.9h0M485.9 385.7h0M486.6 385.4h0M486.0 385.2h0M504.9 385.1h0M449.4 386.2h0M451.0 386.9h0M450.6 386.0h0M450.3 386.7h0M451.5 386.1h0M451.5 386.6h0M451.7 386.5h0M451.1 386.9h0M451.2 387.0h0M473.1 386.5h0M473.1 386.8h0M473.2 386.9h0M473.3 386.1h0M474.6 386.9h0M476.0 386.9h0M476.9 386.1h0M477.9 386.8h0M479.6 386.2h0M480.6 386.4h0M480.0 386.3h0M481.0 386.6h0M482.9 386.2h0M483.0 386.0h0M482.7 386.3h0M483.2 386.8h0M483.1 386.5h0M483.2 386.2h0M449.8 387.7h0M449.5 387.4h0M451.7 388.0h0M452.2 387.1h0M452.9 387.4h0M452.2 387.3h0M473.1 387.3h0M473.9 387.9h0M473.8 387.9h0M473.5 387.3h0M475.8 387.6h0M476.9 387.7h0M476.5 387.9h0M477.6 387.6h0M481.2 387.8h0M487.8 387.1h0M448.0 388.0h0M449.7 388.0h0M450.4 388.1h0M451.7 388.5h0M452.7 388.3h0M452.5 388.6h0M453.0 388.8h0M472.8 388.5h0M472.8 388.6h0M472.8 388.6h0M472.6 388.4h0M473.9 388.2h0M477.3 388.6h0M480.3 388.3h0M487.8 388.5h0M500.2 388.8h0M448.9 389.9h0M450.6 389.4h0M451.1 389.1h0M451.6 389.4h0M452.0 389.4h0M453.8 390.0h0M453.1 389.6h0M453.8 389.3h0M453.4 389.2h0M471.2 389.8h0M471.2 389.4h0M472.3 389.2h0M472.8 389.0h0M472.3 389.8h0M480.9 389.3h0M482.3 389.1h0M483.0 389.1h0M484.0 389.4h0M488.3 389.8h0M493.3 389.7h0M499.8 389.5h0M499.6 389.9h0M449.5 390.1h0M449.1 390.0h0M453.6 390.8h0M454.8 390.3h0M455.3 390.6h0M455.0 390.5h0M455.6 390.8h0M455.3 390.7h0M455.3 390.0h0M455.6 390.4h0M455.5 390.3h0M470.2 390.0h0M470.1 390.9h0M471.0 390.1h0M470.3 390.5h0M470.5 390.8h0M471.6 390.1h0M474.7 390.8h0M478.9 390.4h0M478.9 390.7h0M491.1 390.1h0M448.0 391.1h0M450.1 391.1h0M453.3 391.4h0M453.8 391.7h0M454.9 391.8h0M455.2 391.9h0M455.7 391.2h0M455.1 391.2h0M456.3 391.0h0M456.6 391.4h0M456.8 391.4h0M456.5 391.3h0M456.7 391.3h0M468.1 391.9h0M469.0 391.6h0M468.3 391.2h0M468.2 391.9h0M468.4 391.7h0M469.7 391.1h0M469.3 391.3h0M469.8 392.0h0M469.7 391.6h0M470.5 391.2h0M471.9 392.0h0M474.4 391.7h0M479.2 391.5h0M480.7 391.3h0M483.5 391.9h0M487.8 392.0h0M491.1 391.9h0M448.2 393.0h0M451.0 392.8h0M455.9 392.5h0M456.2 392.3h0M457.2 392.1h0M457.5 392.5h0M457.2 392.1h0M457.2 392.6h0M458.8 392.5h0M458.7 392.2h0M458.3 392.3h0M459.1 392.9h0M459.9 392.7h0M459.6 392.2h0M459.6 392.2h0M465.3 392.3h0M465.6 392.7h0M466.0 392.7h0M465.2 392.8h0M467.9 392.1h0M468.2 392.3h0M469.7 392.8h0M469.7 392.3h0M472.0 392.3h0M475.5 392.3h0M476.4 392.9h0M477.3 393.0h0M477.4 392.7h0M478.4 392.4h0M479.0 392.5h0M479.0 392.7h0M480.6 392.8h0M483.8 392.1h0M503.1 392.8h0M448.1 393.9h0M449.4 393.5h0M449.1 393.9h0M450.7 393.1h0M451.9 393.8h0M453.4 393.0h0M455.8 393.8h0M457.5 393.6h0M458.2 393.1h0M460.0 394.0h0M460.8 393.2h0M463.8 393.6h0M464.4 393.5h0M465.2 393.6h0M465.4 393.2h0M465.5 394.0h0M465.2 393.6h0M465.7 393.5h0M465.7 393.7h0M466.8 393.3h0M467.7 393.8h0M468.9 393.7h0M469.6 393.8h0M469.8 393.1h0M470.9 393.4h0M470.3 394.0h0M471.4 393.9h0M477.7 393.2h0M479.9 393.9h0M483.5 393.3h0M484.8 393.5h0M449.6 394.9h0M450.9 395.0h0M450.3 394.4h0M451.4 394.9h0M453.0 395.0h0M453.9 394.5h0M454.9 394.2h0M454.1 394.6h0M457.3 394.2h0M458.1 394.2h0M458.1 394.9h0M459.9 394.9h0M459.4 395.0h0M459.9 394.5h0M459.7 394.9h0M459.9 394.4h0M459.1 394.7h0M460.6 394.6h0M460.7 394.9h0M463.2 394.3h0M464.5 394.7h0M469.7 394.5h0M470.4 394.0h0M475.9 394.8h0M477.3 394.2h0M483.4 394.8h0M484.8 394.8h0M448.0 395.1h0M448.2 395.2h0M452.2 395.4h0M452.3 395.3h0M453.8 395.7h0M454.0 395.2h0M453.2 395.3h0M455.5 395.3h0M455.6 395.6h0M457.5 395.2h0M459.3 395.1h0M459.7 395.8h0M460.1 395.3h0M461.5 395.5h0M461.0 395.4h0M461.5 395.2h0M462.0 396.0h0M463.5 395.9h0M464.3 395.2h0M466.0 395.7h0M465.3 395.4h0M465.6 395.7h0M468.4 395.4h0M469.5 395.3h0M476.8 395.6h0M479.6 395.2h0M479.4 395.5h0M483.5 395.2h0M483.8 395.5h0M495.0 395.2h0M455.7 396.1h0M456.7 396.2h0M464.8 396.3h0" fill="none" stroke="#000" stroke-width="0.8" stroke-linecap="square"/>
</g>
<rect x="446.9" y="402.9" width="59.50" height="54.80" fill="none" stroke="#777" stroke-width="1.1"/>
<line x1="473.80" y1="402.90" x2="473.80" y2="457.70" stroke="#999" stroke-width="0.9" />
<line x1="446.90" y1="433.30" x2="506.40" y2="433.30" stroke="#999" stroke-width="0.9" />
<g filter="url(#soft)">
<path d="M465 412h9v1h-9zM465 413h9v1h-9zM465 414h9v1h-9zM464 415h10v1h-10zM464 416h10v1h-10zM464 417h10v1h-10zM464 418h10v1h-10zM464 419h11v1h-11zM464 420h11v1h-11zM464 421h11v1h-11zM465 422h9v1h-9zM465 423h9v1h-9zM465 424h9v1h-9zM465 425h9v1h-9zM465 426h9v1h-9zM465 427h9v1h-9zM466 428h9v1h-9zM466 429h9v1h-9zM466 430h9v1h-9zM466 431h9v1h-9zM466 432h8v1h-8zM466 433h8v1h-8zM467 434h7v1h-7zM468 435h7v1h-7zM471 436h5v1h-5zM467 437h2v1h-2zM471 437h5v1h-5zM457 438h19v1h-19zM454 439h21v1h-21zM452 440h22v1h-22zM451 441h23v1h-23zM450 442h23v1h-23zM449 443h25v1h-25zM449 444h25v1h-25zM449 445h25v1h-25zM449 446h25v1h-25zM449 447h24v1h-24zM449 448h24v1h-24zM449 449h24v1h-24zM450 450h22v1h-22zM451 451h20v1h-20zM452 452h18v1h-18zM454 453h14v1h-14zM455 454h12v1h-12zM459 455h4v1h-4z" fill="#000"/>
<path d="M467.1 404.0h0M479.0 404.2h0M480.3 404.6h0M462.6 405.1h0M468.1 405.4h0M483.5 405.5h0M465.4 406.4h0M470.1 406.1h0M473.9 406.2h0M480.2 406.4h0M489.8 406.7h0M449.4 407.6h0M458.8 407.0h0M467.0 407.4h0M468.4 407.7h0M481.0 407.8h0M481.1 407.0h0M482.5 407.1h0M495.0 407.4h0M463.1 408.4h0M471.8 408.0h0M474.5 408.2h0M478.5 408.4h0M485.4 408.0h0M487.8 408.6h0M487.1 408.6h0M487.6 408.3h0M501.1 408.6h0M504.5 408.1h0M450.3 409.7h0M455.2 409.2h0M466.9 409.7h0M466.8 409.7h0M466.0 409.7h0M466.4 409.6h0M468.4 409.9h0M468.9 409.2h0M468.6 409.1h0M468.0 409.1h0M469.1 409.9h0M471.5 409.1h0M475.0 409.6h0M476.1 409.2h0M478.1 409.2h0M478.8 409.5h0M480.2 409.1h0M481.8 409.7h0M481.7 409.1h0M483.0 409.6h0M485.0 409.0h0M486.5 409.9h0M489.3 409.4h0M456.5 411.0h0M464.9 410.8h0M464.6 410.8h0M465.0 410.4h0M465.5 410.8h0M465.5 410.1h0M466.3 410.2h0M466.9 410.1h0M466.8 410.6h0M469.9 410.1h0M469.8 410.7h0M469.3 411.0h0M470.5 410.2h0M470.4 410.8h0M471.9 410.1h0M471.6 411.0h0M471.1 410.1h0M471.2 410.0h0M472.7 410.5h0M472.3 410.2h0M473.6 410.8h0M473.3 410.7h0M473.4 410.9h0M480.7 410.7h0M480.8 410.5h0M484.5 410.1h0M484.1 410.2h0M487.2 410.9h0M489.7 410.2h0M490.8 410.8h0M492.9 410.5h0M463.1 411.1h0M463.3 411.6h0M464.7 411.4h0M465.5 411.2h0M465.2 411.3h0M465.5 411.9h0M465.1 411.4h0M465.2 411.8h0M465.2 411.5h0M465.4 411.6h0M467.0 411.7h0M466.2 411.3h0M466.1 411.4h0M468.6 411.1h0M468.5 411.6h0M468.5 412.0h0M468.6 411.5h0M468.6 411.1h0M468.6 411.6h0M469.4 412.0h0M469.5 411.6h0M469.0 411.9h0M469.6 411.3h0M470.4 411.6h0M470.2 411.7h0M471.1 411.6h0M471.7 411.5h0M471.8 412.0h0M472.7 411.6h0M472.2 411.7h0M472.3 411.0h0M472.8 411.7h0M473.3 411.4h0M476.4 411.7h0M476.1 411.5h0M476.9 411.4h0M476.0 411.2h0M477.6 412.0h0M477.7 411.0h0M479.6 411.0h0M481.5 411.5h0M484.4 411.7h0M484.7 411.8h0M487.3 411.7h0M488.2 411.1h0M494.3 411.0h0M504.9 411.8h0M457.8 412.3h0M461.9 412.3h0M462.1 412.1h0M462.8 412.2h0M464.4 412.4h0M464.8 412.9h0M464.2 412.1h0M474.7 412.9h0M474.2 412.3h0M474.7 412.9h0M475.2 412.4h0M475.1 412.5h0M475.5 412.6h0M476.8 412.1h0M478.6 413.0h0M484.0 412.2h0M485.2 412.0h0M485.2 412.5h0M488.6 412.7h0M490.8 412.0h0M490.0 412.5h0M491.8 412.4h0M501.1 412.9h0M451.2 414.0h0M458.3 413.7h0M460.8 413.5h0M462.8 413.4h0M463.4 413.3h0M464.9 413.4h0M465.0 413.1h0M464.7 413.7h0M464.3 413.0h0M464.5 413.4h0M464.8 413.6h0M474.7 413.5h0M474.1 413.9h0M474.8 413.5h0M475.2 413.3h0M476.0 413.4h0M477.5 413.7h0M478.3 413.7h0M479.6 413.1h0M480.2 413.9h0M483.4 413.7h0M483.1 414.0h0M484.1 414.0h0M485.9 413.2h0M485.7 413.9h0M487.3 413.8h0M488.1 413.9h0M489.5 413.4h0M490.4 413.6h0M492.0 413.1h0M491.0 413.4h0M493.5 413.8h0M495.6 413.8h0M495.4 413.9h0M496.3 413.3h0M499.7 413.2h0M459.9 414.8h0M460.9 414.5h0M461.5 414.2h0M463.0 414.3h0M463.7 414.1h0M464.8 414.6h0M464.9 414.9h0M465.0 414.0h0M474.7 414.8h0M474.8 414.0h0M474.6 414.8h0M474.3 414.3h0M475.0 414.9h0M475.9 414.8h0M475.4 414.1h0M475.6 414.5h0M476.1 414.1h0M476.7 414.9h0M476.6 414.1h0M477.3 414.4h0M478.2 414.0h0M483.8 414.9h0M483.3 414.6h0M483.6 414.2h0M486.9 415.0h0M488.6 414.2h0M489.1 414.1h0M489.2 414.2h0M490.8 414.6h0M490.7 414.6h0M491.4 414.9h0M492.9 414.6h0M493.2 414.3h0M495.4 414.1h0M457.0 415.5h0M456.6 416.0h0M458.4 415.1h0M461.5 415.4h0M462.0 415.1h0M462.0 415.1h0M463.8 415.7h0M474.7 415.9h0M474.2 415.6h0M475.8 415.7h0M476.0 415.5h0M476.5 415.2h0M477.5 415.6h0M477.4 415.5h0M477.8 415.4h0M479.5 415.6h0M482.0 415.0h0M483.0 415.6h0M484.3 415.3h0M488.8 415.4h0M490.2 415.5h0M492.5 415.6h0M493.4 415.3h0M493.0 415.9h0M494.3 415.8h0M494.3 415.9h0M495.4 415.8h0M500.1 415.6h0M452.8 416.3h0M456.7 416.0h0M458.8 416.8h0M458.9 416.5h0M459.2 416.7h0M460.0 416.5h0M462.2 416.2h0M463.0 416.9h0M463.0 416.7h0M463.0 416.7h0M474.5 417.0h0M474.5 416.3h0M474.5 416.1h0M474.2 416.6h0M475.5 416.3h0M475.2 416.1h0M475.1 416.3h0M476.5 416.1h0M476.0 416.3h0M477.8 417.0h0M480.2 416.1h0M482.8 416.4h0M482.7 416.4h0M482.9 416.1h0M484.6 416.2h0M484.1 416.4h0M486.0 416.2h0M485.0 416.8h0M486.5 416.2h0M487.5 416.3h0M490.7 417.0h0M490.4 416.6h0M490.4 416.5h0M492.7 416.6h0M503.4 416.8h0M456.0 417.8h0M458.6 417.4h0M460.0 417.6h0M459.2 417.3h0M461.9 417.3h0M461.7 417.4h0M461.9 417.0h0M462.2 417.0h0M463.5 417.9h0M463.4 417.2h0M474.6 417.6h0M475.2 417.7h0M475.3 417.3h0M475.7 417.9h0M475.9 417.3h0M475.7 417.8h0M475.8 417.5h0M476.8 417.9h0M479.5 417.9h0M480.5 417.7h0M480.1 417.2h0M481.2 417.7h0M485.1 417.8h0M486.1 417.9h0M488.1 417.5h0M488.6 417.8h0M490.4 417.8h0M490.9 417.3h0M490.1 417.1h0M493.6 417.3h0M494.8 417.7h0M494.4 417.2h0M461.6 418.2h0M462.5 418.8h0M462.7 418.5h0M462.4 418.4h0M463.0 418.7h0M462.1 418.2h0M463.3 418.4h0M463.0 418.4h0M463.9 418.3h0M463.1 418.2h0M474.4 418.7h0M475.8 418.9h0M476.8 418.4h0M476.3 418.1h0M479.8 418.1h0M481.4 418.3h0M481.4 418.4h0M481.1 418.4h0M483.6 418.6h0M484.0 418.4h0M484.6 418.2h0M485.5 418.2h0M486.3 418.7h0M488.4 418.7h0M489.7 418.1h0M489.0 418.3h0M492.4 418.5h0M492.8 418.3h0M493.7 418.1h0M495.6 418.8h0M495.4 418.6h0M456.9 419.9h0M458.1 419.3h0M460.6 419.0h0M462.5 419.2h0M462.8 419.5h0M463.2 419.6h0M463.0 419.1h0M463.2 419.5h0M463.2 419.1h0M463.7 419.6h0M463.6 419.1h0M475.2 419.0h0M475.5 419.6h0M476.6 419.3h0M476.7 419.1h0M477.5 419.7h0M478.9 419.8h0M479.5 419.8h0M482.3 419.2h0M483.9 419.8h0M484.3 419.1h0M484.7 419.9h0M486.1 419.1h0M486.5 419.7h0M487.3 419.9h0M489.4 419.1h0M490.2 419.8h0M492.0 419.8h0M494.0 419.5h0M457.0 420.6h0M458.5 420.7h0M460.5 420.9h0M461.7 420.6h0M462.3 420.9h0M462.1 420.0h0M462.4 420.6h0M462.7 420.8h0M463.3 420.1h0M463.6 420.7h0M463.7 420.6h0M463.4 420.8h0M475.5 420.6h0M476.0 420.0h0M476.4 420.2h0M478.1 420.6h0M478.5 420.4h0M479.5 420.8h0M482.1 420.5h0M482.4 420.2h0M484.1 420.4h0M484.9 420.5h0M485.8 420.2h0M486.7 420.5h0M488.8 420.5h0M489.3 420.9h0M489.4 420.0h0M490.5 420.4h0M492.6 420.9h0M493.0 420.7h0M493.9 420.1h0M495.3 420.3h0M458.4 421.4h0M463.9 421.7h0M463.8 421.9h0M463.4 421.0h0M464.0 421.5h0M475.7 421.7h0M475.6 421.7h0M477.0 421.6h0M477.1 421.8h0M477.0 421.1h0M480.7 421.5h0M480.3 421.5h0M484.3 421.6h0M484.5 421.1h0M486.3 421.6h0M488.2 421.6h0M490.8 421.8h0M491.8 421.8h0M494.0 421.1h0M493.5 421.7h0M494.2 421.7h0M459.9 422.0h0M461.3 422.0h0M463.6 422.8h0M463.7 422.5h0M463.5 422.6h0M464.9 422.4h0M464.9 422.8h0M464.3 422.9h0M464.1 422.7h0M464.5 422.3h0M464.6 422.8h0M464.2 422.4h0M464.4 422.6h0M474.9 422.8h0M474.9 422.3h0M474.1 422.5h0M475.9 422.4h0M475.7 422.6h0M476.2 422.7h0M476.5 422.9h0M479.6 422.1h0M481.2 422.9h0M482.2 422.3h0M484.7 422.2h0M485.9 422.8h0M487.1 422.2h0M487.1 422.6h0M489.1 422.7h0M489.2 422.2h0M490.5 422.6h0M491.9 422.5h0M492.4 422.6h0M496.3 422.1h0M451.6 423.8h0M458.4 423.9h0M458.2 423.7h0M459.4 423.5h0M461.4 423.1h0M461.5 423.7h0M462.3 423.2h0M463.5 423.7h0M463.5 423.2h0M464.6 423.5h0M464.8 423.7h0M464.7 423.6h0M474.9 423.5h0M474.1 423.2h0M474.6 423.2h0M474.9 423.3h0M474.7 423.6h0M475.0 423.4h0M476.7 423.7h0M476.7 423.6h0M477.2 423.4h0M478.1 423.4h0M478.6 423.3h0M480.3 423.6h0M482.7 423.4h0M485.4 423.7h0M486.8 423.5h0M486.3 424.0h0M488.2 423.8h0M489.2 423.3h0M491.4 423.5h0M492.5 423.9h0M493.4 423.9h0M493.6 423.2h0M495.7 423.9h0M495.0 423.7h0M463.6 424.1h0M463.9 424.0h0M463.7 424.0h0M464.0 424.5h0M464.5 424.2h0M464.9 424.1h0M474.9 424.7h0M474.7 424.2h0M474.6 424.4h0M474.9 424.6h0M474.3 424.2h0M475.9 424.9h0M475.1 424.1h0M476.6 424.6h0M476.9 424.2h0M477.3 424.2h0M480.0 425.0h0M479.9 424.2h0M480.2 424.8h0M481.5 424.7h0M482.7 425.0h0M482.2 424.3h0M482.2 424.1h0M484.6 424.3h0M484.3 424.4h0M485.8 424.8h0M485.9 424.7h0M487.6 424.1h0M490.2 424.8h0M490.7 424.2h0M494.0 424.3h0M493.4 424.6h0M494.7 424.0h0M495.0 424.7h0M495.5 425.0h0M496.5 424.3h0M452.0 425.4h0M457.6 425.6h0M457.1 425.9h0M458.9 426.0h0M459.5 425.8h0M463.8 425.9h0M464.8 425.3h0M464.6 425.1h0M474.1 425.7h0M475.6 425.9h0M475.2 425.5h0M475.3 425.7h0M475.3 425.4h0M476.4 425.5h0M476.0 425.4h0M476.4 425.7h0M477.5 425.6h0M477.2 425.7h0M477.8 425.8h0M484.9 425.1h0M484.9 425.9h0M487.2 425.7h0M489.2 425.6h0M490.6 425.4h0M491.3 425.3h0M496.0 425.4h0M502.2 425.7h0M459.1 427.0h0M459.1 426.5h0M460.2 426.2h0M463.5 426.6h0M464.6 426.1h0M464.4 426.3h0M464.4 426.2h0M464.3 426.1h0M474.8 426.3h0M474.0 426.1h0M474.1 426.9h0M474.5 426.8h0M475.6 426.8h0M476.9 427.0h0M476.9 426.4h0M477.3 426.1h0M477.9 426.2h0M478.3 426.9h0M479.5 426.4h0M481.8 426.5h0M481.1 426.0h0M483.2 426.8h0M483.5 426.5h0M484.0 427.0h0M485.5 426.2h0M486.4 426.0h0M486.4 426.7h0M487.8 426.6h0M487.7 426.4h0M488.5 426.6h0M489.3 426.6h0M489.9 426.6h0M491.2 426.5h0M492.3 426.1h0M492.2 427.0h0M493.8 426.0h0M495.7 426.5h0M453.5 427.1h0M463.5 427.7h0M464.3 427.6h0M464.4 427.7h0M464.9 428.0h0M464.1 427.8h0M474.8 427.3h0M474.9 427.8h0M474.8 427.7h0M474.7 427.3h0M475.4 427.0h0M475.4 427.2h0M476.9 427.4h0M476.1 427.2h0M477.3 427.0h0M477.5 427.4h0M479.2 427.5h0M482.6 427.3h0M485.1 427.9h0M486.5 427.2h0M487.1 427.0h0M490.7 427.3h0M491.6 427.6h0M491.7 427.6h0M495.6 427.2h0M497.0 427.7h0M453.4 428.3h0M455.9 428.6h0M458.3 428.4h0M460.0 428.1h0M460.3 428.7h0M460.7 428.1h0M461.3 428.8h0M463.0 428.5h0M464.8 428.4h0M465.8 428.8h0M465.3 428.5h0M465.6 428.4h0M475.0 428.5h0M475.8 428.3h0M476.7 428.8h0M476.3 428.5h0M477.5 428.1h0M477.9 428.4h0M478.5 429.0h0M479.5 428.9h0M479.2 428.7h0M481.0 428.4h0M480.2 428.3h0M484.7 428.4h0M484.2 428.3h0M485.2 428.7h0M487.0 428.9h0M487.9 428.4h0M487.2 428.2h0M491.3 428.6h0M492.8 428.5h0M492.0 428.1h0M492.2 428.5h0M495.3 428.3h0M451.0 429.3h0M452.1 429.5h0M453.6 429.5h0M457.1 429.3h0M458.1 429.2h0M461.0 429.7h0M462.3 429.3h0M463.3 430.0h0M464.8 429.2h0M465.3 429.5h0M465.8 429.2h0M466.0 429.4h0M465.0 429.2h0M465.9 429.1h0M476.1 429.7h0M477.2 429.6h0M478.1 429.9h0M478.9 429.9h0M479.2 429.7h0M479.6 429.1h0M479.1 430.0h0M479.0 429.8h0M480.2 429.9h0M481.1 430.0h0M481.3 429.7h0M481.3 429.8h0M483.9 429.4h0M484.1 429.4h0M484.7 429.0h0M485.1 429.1h0M485.7 429.2h0M486.4 429.5h0M487.4 429.4h0M489.2 429.8h0M490.0 429.7h0M490.6 429.2h0M490.0 429.9h0M491.3 429.1h0M492.0 429.9h0M494.7 429.3h0M496.2 429.9h0M496.2 429.9h0M496.7 429.6h0M504.0 429.3h0M450.7 430.1h0M455.3 430.5h0M456.1 430.7h0M462.6 430.6h0M463.2 430.8h0M464.6 430.2h0M465.5 430.9h0M465.6 430.2h0M465.9 430.3h0M465.0 430.3h0M475.6 430.3h0M475.5 430.1h0M477.1 430.1h0M477.8 430.3h0M478.5 430.3h0M480.4 430.2h0M481.3 430.3h0M483.8 430.3h0M484.0 430.7h0M485.5 430.0h0M486.2 430.1h0M486.5 430.6h0M488.7 430.2h0M489.4 430.2h0M489.3 430.4h0M489.2 430.6h0M489.9 430.1h0M490.9 430.1h0M491.2 430.2h0M491.4 430.6h0M493.3 430.5h0M493.9 430.5h0M495.7 431.0h0M458.8 431.9h0M462.1 432.0h0M463.3 431.3h0M465.4 431.2h0M475.9 431.1h0M475.5 431.4h0M476.8 431.1h0M476.1 431.3h0M477.9 431.6h0M479.2 431.5h0M481.2 431.4h0M483.5 431.4h0M483.3 431.4h0M485.6 431.7h0M486.8 431.1h0M486.1 431.6h0M488.6 431.5h0M489.0 431.1h0M489.3 431.3h0M490.0 431.7h0M490.4 431.3h0M492.8 431.9h0M492.8 432.0h0M496.0 431.7h0M451.6 432.1h0M454.9 432.9h0M461.9 432.1h0M463.8 432.3h0M465.8 432.5h0M465.2 432.4h0M465.5 432.1h0M474.6 432.1h0M475.3 432.6h0M475.0 432.7h0M475.2 432.3h0M475.6 432.9h0M477.9 432.2h0M481.4 432.3h0M481.6 433.0h0M482.7 433.0h0M482.8 432.8h0M483.8 432.6h0M484.2 432.2h0M487.5 432.2h0M489.7 432.8h0M491.3 432.8h0M492.8 432.9h0M494.0 432.2h0M493.1 432.7h0M496.6 432.9h0M452.7 433.7h0M453.6 433.6h0M454.1 434.0h0M454.2 433.4h0M456.3 433.5h0M457.2 433.4h0M458.7 433.2h0M460.8 433.5h0M464.8 433.3h0M465.2 433.3h0M465.7 433.6h0M474.1 433.0h0M474.7 433.9h0M474.8 433.6h0M474.9 433.4h0M475.4 433.6h0M476.9 433.7h0M478.9 433.1h0M478.5 433.3h0M481.0 433.2h0M480.5 433.2h0M481.7 433.6h0M483.7 433.9h0M483.8 433.4h0M483.6 433.6h0M485.3 434.0h0M487.0 433.2h0M490.7 433.3h0M490.6 433.7h0M491.1 433.3h0M491.8 433.8h0M495.5 433.8h0M495.5 433.8h0M497.0 433.5h0M500.7 433.8h0M500.1 433.8h0M501.1 433.2h0M455.8 434.5h0M464.3 434.5h0M465.8 434.3h0M466.6 434.9h0M466.0 434.5h0M474.2 434.4h0M475.8 434.9h0M475.5 434.7h0M476.0 434.7h0M475.8 434.7h0M475.0 434.4h0M476.6 434.3h0M477.3 434.4h0M478.4 434.8h0M478.2 434.8h0M479.0 434.4h0M479.2 434.2h0M480.1 434.1h0M481.7 434.4h0M482.6 435.0h0M483.1 434.9h0M484.4 434.6h0M486.5 434.2h0M487.1 434.8h0M488.4 434.0h0M488.3 434.4h0M450.8 435.3h0M452.6 435.1h0M454.8 436.0h0M456.2 435.7h0M457.9 435.2h0M458.5 435.3h0M458.0 435.0h0M463.0 435.0h0M465.7 435.8h0M466.6 435.8h0M466.1 435.9h0M466.1 435.4h0M466.0 435.5h0M466.1 435.7h0M466.1 435.1h0M467.5 435.8h0M467.7 435.1h0M475.1 435.1h0M475.9 436.0h0M475.4 435.7h0M475.5 435.5h0M475.8 435.2h0M477.2 435.7h0M477.5 435.8h0M477.7 435.1h0M477.7 436.0h0M478.4 435.1h0M478.7 435.4h0M478.4 435.2h0M478.3 435.3h0M480.4 435.3h0M480.6 435.1h0M480.8 435.7h0M480.5 435.6h0M480.5 435.8h0M481.7 435.6h0M482.0 435.3h0M482.6 435.7h0M482.2 435.2h0M482.6 435.3h0M483.0 435.5h0M483.8 436.0h0M484.8 435.1h0M484.0 435.6h0M485.6 435.5h0M495.9 435.1h0M457.0 436.5h0M458.8 436.6h0M458.3 436.1h0M459.1 436.0h0M460.6 436.2h0M460.9 436.0h0M462.4 436.1h0M462.5 436.6h0M464.5 436.9h0M465.5 436.7h0M465.3 436.0h0M466.8 436.4h0M466.3 436.0h0M467.6 436.7h0M467.3 436.9h0M467.6 436.1h0M467.3 436.5h0M468.6 436.0h0M468.3 436.9h0M468.3 436.4h0M468.3 436.4h0M469.8 436.9h0M469.2 436.5h0M470.9 436.5h0M470.9 436.5h0M470.8 436.6h0M470.1 436.3h0M470.2 436.3h0M470.8 436.9h0M476.8 436.1h0M476.9 436.4h0M477.5 436.4h0M478.4 436.6h0M479.1 436.4h0M479.0 436.5h0M480.4 436.6h0M481.2 436.6h0M481.9 436.6h0M481.4 437.0h0M482.8 436.4h0M483.8 436.1h0M483.7 436.8h0M484.5 436.7h0M484.4 436.9h0M484.3 436.2h0M485.4 436.5h0M485.7 436.7h0M486.3 436.6h0M487.0 436.7h0M486.9 436.9h0M487.1 436.2h0M487.9 436.2h0M487.2 436.8h0M488.1 436.5h0M490.0 436.9h0M490.8 436.6h0M490.3 437.0h0M495.3 436.0h0M454.2 437.7h0M455.4 437.4h0M455.6 437.6h0M455.9 437.4h0M457.6 437.2h0M458.8 437.1h0M459.0 437.6h0M459.8 437.9h0M459.1 437.5h0M459.8 437.9h0M460.1 437.6h0M460.3 437.0h0M461.6 437.6h0M461.3 437.9h0M462.9 437.8h0M463.0 437.3h0M462.9 438.0h0M462.4 437.3h0M463.8 437.5h0M463.4 437.2h0M464.5 437.4h0M464.4 437.8h0M464.1 437.7h0M464.2 437.2h0M464.2 437.9h0M464.9 437.9h0M464.5 437.7h0M465.4 437.3h0M465.5 437.8h0M466.7 437.5h0M466.9 437.9h0M466.8 437.8h0M466.9 437.8h0M469.7 437.0h0M469.2 437.8h0M469.8 437.6h0M469.5 437.1h0M470.6 437.9h0M470.8 437.8h0M477.0 437.2h0M477.4 437.1h0M477.1 437.8h0M478.4 437.3h0M478.8 437.2h0M478.3 437.7h0M479.4 437.6h0M479.9 437.2h0M479.5 437.1h0M479.7 437.6h0M479.7 437.2h0M479.9 437.6h0M480.2 437.1h0M480.3 437.9h0M480.3 437.7h0M480.5 437.4h0M480.4 437.7h0M482.0 437.3h0M481.3 437.4h0M482.1 437.8h0M483.8 437.8h0M483.0 437.2h0M484.6 438.0h0M484.6 437.5h0M485.9 437.3h0M486.0 437.4h0M485.8 437.7h0M486.8 437.5h0M486.3 437.4h0M486.4 437.7h0M486.2 437.6h0M487.8 437.7h0M487.3 437.2h0M487.3 437.8h0M487.5 437.7h0M487.4 437.1h0M487.3 437.4h0M487.3 437.9h0M488.2 437.9h0M488.0 437.2h0M488.1 437.9h0M488.3 437.1h0M488.8 437.3h0M488.1 437.1h0M489.4 437.4h0M489.7 437.1h0M490.6 437.9h0M491.3 437.8h0M491.8 437.0h0M491.9 437.9h0M491.7 437.8h0M491.2 437.4h0M493.2 437.9h0M450.2 438.9h0M453.1 438.2h0M453.5 438.6h0M454.1 438.6h0M455.9 438.8h0M456.6 438.9h0M456.3 438.3h0M456.2 438.1h0M456.6 438.6h0M477.2 438.8h0M477.8 438.1h0M477.3 438.1h0M477.8 439.0h0M477.6 438.4h0M477.4 438.5h0M477.5 438.2h0M478.1 438.8h0M478.8 438.4h0M479.6 438.1h0M479.8 438.1h0M479.3 438.9h0M479.3 438.0h0M480.0 438.7h0M480.5 438.5h0M480.6 438.5h0M481.2 438.3h0M481.7 439.0h0M481.5 438.0h0M481.8 438.0h0M482.1 438.2h0M482.3 438.2h0M482.9 438.3h0M483.5 438.4h0M483.6 438.8h0M483.2 438.7h0M483.2 438.4h0M483.1 438.9h0M484.8 438.6h0M484.3 438.9h0M484.3 438.1h0M485.0 438.1h0M485.9 438.2h0M487.0 438.8h0M487.7 438.8h0M487.3 438.6h0M487.6 438.6h0M487.8 438.9h0M487.4 438.6h0M488.2 438.5h0M488.9 438.1h0M488.8 438.6h0M489.9 438.4h0M489.4 438.7h0M489.2 438.3h0M489.2 438.9h0M489.4 438.3h0M490.2 438.4h0M491.9 438.2h0M492.0 438.8h0M491.6 438.6h0M492.0 438.3h0M492.2 438.2h0M493.0 438.3h0M493.0 438.9h0M493.1 438.6h0M493.2 438.1h0M496.6 438.6h0M451.2 439.7h0M452.4 439.5h0M452.2 439.7h0M453.3 439.4h0M453.4 439.2h0M453.2 439.9h0M453.2 439.7h0M453.1 439.3h0M453.9 439.7h0M475.6 439.1h0M475.4 439.7h0M476.6 439.4h0M476.7 439.2h0M477.2 439.2h0M477.9 439.1h0M477.2 439.1h0M478.5 439.1h0M478.5 439.3h0M478.3 439.6h0M478.9 439.6h0M478.3 439.6h0M478.1 439.1h0M478.6 439.3h0M480.0 439.0h0M480.0 439.3h0M480.6 439.1h0M480.0 439.0h0M481.4 439.6h0M481.4 439.6h0M483.9 439.3h0M483.9 439.9h0M483.7 439.4h0M483.7 439.1h0M484.8 439.9h0M485.0 439.7h0M484.4 439.1h0M484.2 439.1h0M485.0 439.8h0M485.2 439.1h0M485.3 439.4h0M485.8 439.2h0M485.9 439.9h0M486.3 439.0h0M486.7 439.8h0M486.5 439.6h0M486.9 439.5h0M487.9 439.4h0M487.3 439.9h0M487.6 439.6h0M487.1 439.9h0M487.0 439.3h0M487.6 439.2h0M488.6 439.7h0M488.4 439.9h0M488.6 439.7h0M489.0 439.1h0M489.7 439.0h0M489.6 439.1h0M490.3 439.8h0M490.2 439.7h0M491.8 439.5h0M491.9 439.5h0M491.3 439.5h0M491.8 439.7h0M491.4 439.2h0M492.6 439.5h0M493.6 439.5h0M494.3 439.3h0M494.2 440.0h0M502.0 439.2h0M503.1 439.1h0M450.3 440.6h0M450.1 440.1h0M451.2 440.8h0M451.1 440.8h0M451.6 440.5h0M451.6 440.4h0M474.3 440.1h0M474.3 440.7h0M474.9 440.8h0M475.8 440.1h0M475.9 440.5h0M475.6 440.9h0M475.8 440.4h0M475.8 440.7h0M476.7 440.4h0M476.4 440.3h0M476.1 440.6h0M477.0 440.0h0M476.3 440.7h0M476.2 440.5h0M477.3 440.4h0M477.4 440.1h0M477.7 440.0h0M478.4 441.0h0M478.3 440.9h0M479.1 440.2h0M480.6 440.8h0M480.7 440.0h0M481.0 440.8h0M481.5 440.4h0M481.9 440.2h0M483.0 440.5h0M482.1 440.2h0M482.4 440.7h0M483.6 440.5h0M483.8 441.0h0M483.7 440.6h0M484.0 440.7h0M485.6 440.5h0M485.0 440.7h0M485.9 440.7h0M485.8 440.4h0M486.4 440.5h0M487.0 440.5h0M486.1 440.5h0M487.8 440.4h0M487.6 440.8h0M487.8 440.4h0M487.0 440.7h0M488.8 440.3h0M488.4 440.3h0M490.0 440.8h0M490.7 440.7h0M490.8 440.6h0M490.6 440.9h0M490.1 440.7h0M490.8 440.9h0M491.8 440.5h0M492.0 440.7h0M492.2 440.9h0M494.0 440.7h0M493.9 440.2h0M494.1 440.7h0M494.9 440.1h0M449.2 441.5h0M449.7 441.4h0M449.2 441.4h0M450.1 441.6h0M474.5 441.7h0M474.6 441.7h0M475.2 441.8h0M476.3 441.8h0M476.3 441.4h0M477.4 441.6h0M477.9 441.5h0M477.6 441.9h0M478.3 441.6h0M478.4 441.1h0M479.2 441.7h0M480.1 441.7h0M481.0 441.3h0M480.9 441.6h0M480.3 441.9h0M480.1 441.3h0M480.3 441.7h0M480.4 441.3h0M481.3 442.0h0M481.4 441.8h0M481.5 441.0h0M481.7 441.3h0M481.5 441.4h0M483.0 441.5h0M482.0 441.7h0M483.1 441.3h0M483.7 441.8h0M484.0 441.9h0M483.2 441.8h0M483.3 442.0h0M483.6 441.8h0M484.3 441.9h0M484.9 441.3h0M484.4 441.6h0M484.4 441.5h0M485.8 441.2h0M486.0 441.1h0M485.3 441.3h0M485.9 441.6h0M486.0 441.4h0M486.0 441.8h0M486.9 441.9h0M486.9 441.7h0M487.3 441.4h0M487.2 441.2h0M487.7 441.1h0M487.3 441.4h0M488.1 441.8h0M488.8 441.2h0M488.9 441.3h0M489.5 441.5h0M489.2 441.1h0M490.6 441.8h0M490.7 441.3h0M491.5 441.8h0M491.5 441.2h0M491.2 441.1h0M492.2 442.0h0M492.1 441.5h0M492.2 441.1h0M492.2 441.4h0M492.9 441.0h0M493.8 441.5h0M493.9 441.3h0M493.2 441.6h0M493.4 441.0h0M448.5 442.7h0M448.9 442.5h0M448.4 442.3h0M448.2 443.0h0M448.9 442.0h0M448.2 442.7h0M449.4 442.1h0M473.7 442.4h0M473.2 442.5h0M473.1 442.4h0M473.8 442.4h0M473.1 442.1h0M473.7 442.1h0M474.1 442.3h0M474.7 442.2h0M474.9 442.6h0M474.2 442.5h0M474.5 442.8h0M475.2 442.0h0M475.6 442.8h0M477.3 442.7h0M477.1 442.7h0M477.1 442.3h0M477.8 442.6h0M477.2 442.3h0M477.8 442.3h0M478.1 442.8h0M478.1 442.0h0M478.9 442.4h0M479.6 442.1h0M479.9 442.3h0M479.7 442.1h0M480.7 442.8h0M480.5 442.8h0M480.4 442.1h0M480.7 442.2h0M480.4 442.0h0M481.6 442.4h0M481.5 442.1h0M481.4 442.5h0M481.4 442.7h0M481.3 442.7h0M481.2 442.3h0M481.9 442.9h0M481.4 442.2h0M481.8 442.8h0M482.2 442.4h0M483.0 442.1h0M482.5 442.9h0M482.5 442.9h0M482.0 442.4h0M483.8 442.1h0M484.2 442.6h0M484.8 442.6h0M484.3 442.3h0M485.0 442.2h0M485.6 442.0h0M485.9 442.7h0M485.6 442.6h0M485.9 442.3h0M487.0 442.5h0M486.7 442.9h0M486.4 442.0h0M486.5 442.2h0M487.9 442.1h0M487.6 442.7h0M487.5 442.7h0M488.3 442.9h0M489.7 442.6h0M489.7 442.3h0M489.3 442.1h0M491.0 442.6h0M490.0 442.2h0M490.9 442.9h0M490.3 442.3h0M491.7 442.0h0M492.4 442.2h0M494.4 442.2h0M448.6 443.6h0M448.9 443.9h0M474.8 443.9h0M474.7 443.4h0M474.5 443.7h0M474.3 444.0h0M475.4 443.9h0M475.4 443.5h0M475.6 443.5h0M476.9 443.8h0M476.8 443.5h0M477.5 443.9h0M477.3 443.1h0M477.7 443.5h0M479.4 443.5h0M479.6 443.4h0M480.8 443.9h0M480.0 444.0h0M481.8 443.5h0M481.1 443.3h0M481.6 443.3h0M481.5 443.6h0M482.6 443.5h0M482.2 443.8h0M483.1 443.7h0M483.5 443.0h0M484.1 443.8h0M484.3 443.5h0M485.8 443.1h0M486.6 443.8h0M486.0 443.4h0M487.6 443.8h0M487.7 443.8h0M487.4 443.3h0M488.3 443.6h0M488.5 443.3h0M488.6 443.5h0M489.8 443.0h0M490.6 443.6h0M491.0 444.0h0M491.5 443.0h0M491.3 443.7h0M491.3 443.2h0M492.6 443.6h0M492.5 443.6h0M492.6 443.8h0M474.4 444.2h0M474.4 444.6h0M476.0 444.8h0M475.2 444.7h0M476.2 444.2h0M476.3 444.4h0M477.0 444.6h0M476.4 444.5h0M477.5 444.4h0M477.2 445.0h0M478.8 444.3h0M478.8 444.0h0M479.7 444.2h0M479.3 444.7h0M480.5 444.7h0M480.4 444.8h0M481.0 444.1h0M481.8 444.8h0M482.8 444.4h0M482.6 444.7h0M482.4 444.2h0M483.0 444.7h0M482.9 444.1h0M484.0 444.4h0M484.1 444.1h0M484.7 445.0h0M484.8 444.6h0M484.8 444.8h0M486.9 444.3h0M486.7 444.8h0M487.1 444.1h0M488.7 444.5h0M490.0 444.2h0M490.3 444.9h0M490.1 444.3h0M490.5 444.6h0M491.7 444.2h0M501.7 444.2h0M448.5 445.0h0M474.8 445.9h0M474.3 445.3h0M475.0 445.8h0M475.4 445.3h0M477.4 445.5h0M477.2 445.3h0M477.7 445.5h0M478.5 445.3h0M479.7 445.7h0M479.0 445.3h0M479.8 445.5h0M479.3 445.5h0M480.8 446.0h0M481.0 445.8h0M481.1 445.9h0M482.4 445.6h0M484.2 445.9h0M484.2 445.2h0M485.3 445.4h0M486.8 445.8h0M486.2 445.8h0M486.9 445.3h0M487.3 445.2h0M487.5 445.7h0M488.1 445.2h0M488.7 445.5h0M489.5 445.1h0M489.9 445.3h0M490.8 445.8h0M490.5 445.6h0M491.2 445.7h0M448.3 446.9h0M475.0 446.8h0M474.6 446.0h0M474.4 446.3h0M475.4 446.6h0M475.9 446.5h0M478.2 446.8h0M479.1 446.6h0M480.2 446.0h0M481.6 446.4h0M481.5 446.1h0M482.5 446.7h0M482.1 446.9h0M482.4 446.2h0M482.7 446.2h0M483.1 446.3h0M485.3 446.0h0M486.4 446.5h0M488.5 446.8h0M488.1 447.0h0M448.3 447.2h0M448.4 447.6h0M449.0 447.7h0M448.9 447.6h0M448.7 447.8h0M448.1 447.1h0M473.0 447.3h0M473.2 447.6h0M473.6 447.4h0M473.4 447.7h0M473.7 447.3h0M473.0 447.7h0M473.7 447.6h0M476.1 447.1h0M476.8 447.5h0M489.6 447.4h0M491.5 447.4h0M491.7 447.2h0M504.7 447.6h0M448.7 448.6h0M474.6 448.8h0M474.7 448.2h0M476.9 448.2h0M477.0 448.3h0M480.2 448.1h0M484.1 448.9h0M491.9 448.3h0M473.3 449.9h0M473.6 449.4h0M475.2 449.5h0M475.9 449.1h0M477.6 449.3h0M483.1 449.4h0M485.0 449.7h0M487.5 449.1h0M498.3 449.2h0M504.9 449.4h0M448.3 450.6h0M448.8 450.1h0M450.0 450.6h0M449.6 450.4h0M449.4 450.7h0M472.1 450.3h0M472.3 450.8h0M472.3 450.8h0M478.2 451.0h0M480.2 450.2h0M483.7 450.1h0M487.5 450.7h0M488.3 450.0h0M488.9 450.4h0M490.9 450.8h0M491.9 450.5h0M449.3 451.6h0M471.8 451.4h0M472.5 451.3h0M476.8 451.5h0M478.3 451.5h0M480.7 451.1h0M481.6 451.4h0M484.6 451.5h0M485.4 451.3h0M490.8 451.1h0M447.9 452.3h0M448.9 452.3h0M451.9 452.1h0M451.3 452.5h0M451.7 452.4h0M451.6 452.1h0M470.3 452.7h0M470.6 452.2h0M471.9 452.3h0M471.7 452.7h0M472.5 452.1h0M472.9 452.0h0M473.1 452.8h0M479.3 452.8h0M480.7 452.1h0M482.8 452.4h0M486.0 452.0h0M487.9 452.2h0M489.7 452.6h0M492.9 452.1h0M448.0 453.7h0M449.1 453.0h0M451.3 453.9h0M451.4 453.6h0M452.2 453.9h0M452.7 453.6h0M453.9 453.2h0M469.9 453.0h0M471.0 453.5h0M470.1 453.8h0M470.8 453.0h0M470.1 453.6h0M470.2 453.9h0M471.0 453.7h0M472.3 453.1h0M472.7 453.6h0M477.0 453.5h0M479.7 453.1h0M482.9 453.2h0M482.1 453.8h0M487.7 453.5h0M488.8 453.1h0M452.6 454.2h0M452.8 455.0h0M453.0 454.1h0M452.4 454.2h0M452.1 454.7h0M453.7 455.0h0M454.5 454.9h0M467.9 454.1h0M467.2 454.3h0M467.4 455.0h0M467.8 454.4h0M468.0 454.1h0M468.6 454.2h0M470.2 454.7h0M474.4 454.8h0M476.4 454.1h0M476.8 454.4h0M480.2 454.4h0M482.1 454.0h0M492.8 454.7h0M452.0 455.5h0M452.1 455.8h0M454.6 455.0h0M454.3 455.4h0M455.8 455.5h0M455.0 455.2h0M455.2 455.8h0M456.4 455.3h0M456.3 455.8h0M456.8 455.1h0M456.5 455.2h0M456.6 455.2h0M457.8 455.5h0M458.0 455.4h0M457.3 455.2h0M457.0 455.1h0M457.3 455.3h0M457.6 455.2h0M457.7 455.5h0M458.1 456.0h0M463.3 455.0h0M463.6 455.6h0M463.0 455.6h0M463.4 455.5h0M463.5 455.7h0M464.9 455.6h0M466.0 455.9h0M465.0 455.3h0M465.2 456.0h0M465.6 455.8h0M466.2 455.6h0M467.5 455.3h0M467.3 455.3h0M468.3 455.5h0M468.0 455.6h0M469.4 455.2h0M469.4 455.3h0M471.5 455.6h0M476.6 455.9h0M484.7 455.1h0M485.2 455.5h0M487.6 455.0h0M449.2 456.2h0M453.1 456.5h0M454.9 456.3h0M455.5 456.5h0M456.0 456.5h0M458.9 456.6h0M459.5 456.6h0M460.7 456.6h0M461.5 456.7h0M461.2 456.3h0M461.3 456.6h0M461.7 456.6h0M462.2 456.7h0M462.7 456.0h0M463.2 456.0h0M465.5 456.4h0M478.4 456.6h0" fill="none" stroke="#000" stroke-width="0.8" stroke-linecap="square"/>
</g>
<text x="452.2" y="351.7" font-size="7.6" text-anchor="start" fill="#000" stroke="#fff" stroke-width="1.6" paint-order="stroke">8%</text>
<text x="504.2" y="351.7" font-size="7.6" text-anchor="end" fill="#000" stroke="#fff" stroke-width="1.6" paint-order="stroke">4%</text>
<text x="504.2" y="393.5" font-size="7.6" text-anchor="end" fill="#000" stroke="#fff" stroke-width="1.6" paint-order="stroke">11%</text>
<text x="452.6" y="412.5" font-size="7.6" text-anchor="start" fill="#000" stroke="#fff" stroke-width="1.6" paint-order="stroke">16%</text>
<text x="503.7" y="412.5" font-size="7.6" text-anchor="end" fill="#000" stroke="#fff" stroke-width="1.6" paint-order="stroke">5%</text>
<text x="503.7" y="455.2" font-size="7.6" text-anchor="end" fill="#000" stroke="#fff" stroke-width="1.6" paint-order="stroke">9%</text>
<line x1="349.00" y1="456.10" x2="349.00" y2="448.60" stroke="#000" stroke-width="1.7" />
<path d="M349.00,443.40 L352.30,450.60 L349.00,448.60 L345.70,450.60 Z" fill="#000"/>
<line x1="349.00" y1="464.20" x2="357.80" y2="464.20" stroke="#000" stroke-width="1.7" />
<path d="M363.00,464.20 L355.80,467.40 L357.80,464.20 L355.80,461.00 Z" fill="#000"/>
<text transform="translate(340.30,452.50) rotate(-90)" font-size="7.4" text-anchor="middle" fill="#2a2a2a" stroke="#2a2a2a" stroke-width="0.1" font-weight="bold" textLength="20.8" lengthAdjust="spacingAndGlyphs">Isotype</text>
<text transform="translate(353.50,476.30)" font-size="7.6" text-anchor="middle" fill="#2a2a2a" stroke="#2a2a2a" stroke-width="0.1" font-weight="bold" textLength="20.8" lengthAdjust="spacingAndGlyphs">Isotype</text>
<line x1="438.60" y1="457.50" x2="438.60" y2="450.90" stroke="#000" stroke-width="1.7" />
<path d="M438.60,445.70 L441.80,452.90 L438.60,450.90 L435.40,452.90 Z" fill="#000"/>
<line x1="438.10" y1="464.20" x2="446.00" y2="464.20" stroke="#000" stroke-width="1.7" />
<path d="M451.20,464.20 L444.00,467.10 L446.00,464.20 L444.00,461.30 Z" fill="#000"/>
<text transform="translate(430.30,454.20) rotate(-90)" font-size="8.2" text-anchor="middle" fill="#2a2a2a" stroke="#2a2a2a" stroke-width="0.1" font-weight="bold" textLength="15.1" lengthAdjust="spacingAndGlyphs">IL-17</text>
<text transform="translate(441.80,476.20)" font-size="7.2" text-anchor="middle" fill="#2a2a2a" stroke="#2a2a2a" stroke-width="0.1" font-weight="bold" textLength="16.3" lengthAdjust="spacingAndGlyphs">IFN-γ</text>
</svg></body></html>
